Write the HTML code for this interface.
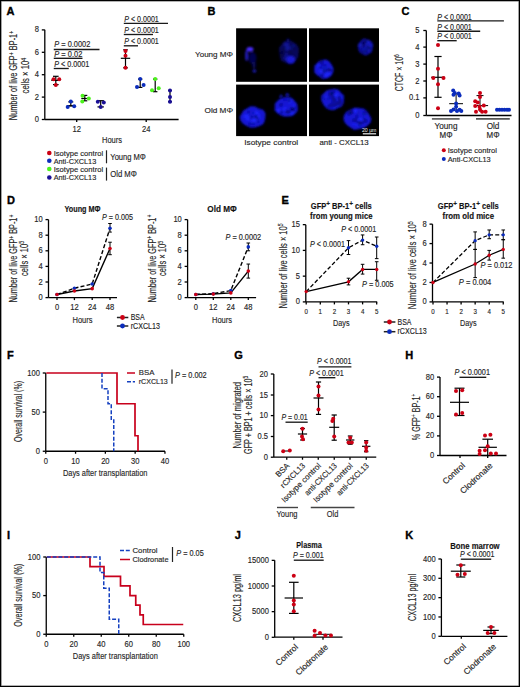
<!DOCTYPE html>
<html><head><meta charset="utf-8"><style>
html,body{margin:0;padding:0;background:#fff;}
#fig{position:relative;width:520px;height:687px;overflow:hidden;background:#fff;}
#fig svg{position:absolute;left:0;top:0;}
#frame{position:absolute;left:0;top:0;width:520px;height:687px;box-sizing:border-box;border:1px solid #000;box-shadow:inset 0 0 0 0.6px rgba(0,0,0,0.6);}
text{font-family:"Liberation Sans", sans-serif;stroke:currentColor;stroke-width:0.15px;}
#fig svg{color:#262626;}
</style></head><body>
<div id="fig">
<svg width="520" height="687" viewBox="0 0 520 687" font-family="Liberation Sans, sans-serif" fill="#262626">
<defs>
<radialGradient id="cellg" cx="50%" cy="50%" r="50%">
<stop offset="0" stop-color="#1f30ff"/><stop offset="0.7" stop-color="#1522e6"/><stop offset="0.9" stop-color="#0d15a8"/><stop offset="1" stop-color="#000" stop-opacity="0"/>
</radialGradient>
<filter id="bl1" x="-50%" y="-50%" width="200%" height="200%"><feGaussianBlur stdDeviation="0.8"/></filter>
<filter id="bl2" x="-50%" y="-50%" width="200%" height="200%"><feGaussianBlur stdDeviation="1.5"/></filter>
</defs>
<text x="6.6" y="14.6" font-size="11" font-weight="bold" fill="#000" style="stroke:#000;stroke-width:0.35px">A</text>
<line x1="44.80" y1="29.80" x2="44.80" y2="119.50" stroke="#000" stroke-width="1.3"/>
<line x1="41.80" y1="119.50" x2="44.80" y2="119.50" stroke="#000" stroke-width="1.3"/>
<text x="39.00" y="122.08" font-size="8.6" text-anchor="end" textLength="4.21" lengthAdjust="spacingAndGlyphs">0</text>
<line x1="41.80" y1="97.10" x2="44.80" y2="97.10" stroke="#000" stroke-width="1.3"/>
<text x="39.00" y="99.68" font-size="8.6" text-anchor="end" textLength="4.21" lengthAdjust="spacingAndGlyphs">2</text>
<line x1="41.80" y1="74.70" x2="44.80" y2="74.70" stroke="#000" stroke-width="1.3"/>
<text x="39.00" y="77.28" font-size="8.6" text-anchor="end" textLength="4.21" lengthAdjust="spacingAndGlyphs">4</text>
<line x1="41.80" y1="52.30" x2="44.80" y2="52.30" stroke="#000" stroke-width="1.3"/>
<text x="39.00" y="54.88" font-size="8.6" text-anchor="end" textLength="4.21" lengthAdjust="spacingAndGlyphs">6</text>
<line x1="41.80" y1="29.90" x2="44.80" y2="29.90" stroke="#000" stroke-width="1.3"/>
<text x="39.00" y="32.48" font-size="8.6" text-anchor="end" textLength="4.21" lengthAdjust="spacingAndGlyphs">8</text>
<line x1="44.80" y1="119.50" x2="178.60" y2="119.50" stroke="#000" stroke-width="1.3"/>
<line x1="76.70" y1="119.50" x2="76.70" y2="122.00" stroke="#000" stroke-width="1.3"/>
<text x="76.70" y="131.50" font-size="8.6" text-anchor="middle" textLength="8.42" lengthAdjust="spacingAndGlyphs">12</text>
<line x1="146.20" y1="119.50" x2="146.20" y2="122.00" stroke="#000" stroke-width="1.3"/>
<text x="146.20" y="131.50" font-size="8.6" text-anchor="middle" textLength="8.42" lengthAdjust="spacingAndGlyphs">24</text>
<text x="112.00" y="142.70" font-size="9.5" text-anchor="middle" textLength="20.00" lengthAdjust="spacingAndGlyphs">Hours</text>
<text x="17.20" y="75.50" font-size="10.0" text-anchor="middle" textLength="89.50" lengthAdjust="spacingAndGlyphs" transform="rotate(-90 17.20 75.50)">Number of live GFP<tspan dy="-3.6" font-size="7">+</tspan><tspan dy="3.6"> BP-1</tspan><tspan dy="-3.6" font-size="7">+</tspan></text>
<text x="29.50" y="75.60" font-size="10.0" text-anchor="middle" textLength="35.60" lengthAdjust="spacingAndGlyphs" transform="rotate(-90 29.50 75.60)">cells × 10<tspan dy="-3.6" font-size="7">4</tspan></text>
<text x="54.30" y="47.10" font-size="8.2" textLength="36.00" lengthAdjust="spacingAndGlyphs"><tspan font-style="italic">P</tspan> = 0.0002</text>
<line x1="53.75" y1="49.50" x2="99.50" y2="49.50" stroke="#1a1a1a" stroke-width="1.35"/>
<text x="54.30" y="56.60" font-size="8.2" textLength="28.00" lengthAdjust="spacingAndGlyphs"><tspan font-style="italic">P</tspan> = 0.02</text>
<line x1="53.75" y1="58.30" x2="82.50" y2="58.30" stroke="#1a1a1a" stroke-width="1.35"/>
<text x="54.30" y="66.80" font-size="8.2" textLength="35.00" lengthAdjust="spacingAndGlyphs"><tspan font-style="italic">P</tspan> &lt; 0.0001</text>
<line x1="53.75" y1="68.50" x2="68.75" y2="68.50" stroke="#1a1a1a" stroke-width="1.35"/>
<text x="124.30" y="22.00" font-size="8.2" textLength="34.50" lengthAdjust="spacingAndGlyphs"><tspan font-style="italic">P</tspan> &lt; 0.0001</text>
<line x1="123.80" y1="23.40" x2="168.00" y2="23.40" stroke="#1a1a1a" stroke-width="1.35"/>
<text x="124.30" y="32.70" font-size="8.2" textLength="34.50" lengthAdjust="spacingAndGlyphs"><tspan font-style="italic">P</tspan> &lt; 0.0001</text>
<line x1="123.80" y1="34.50" x2="153.00" y2="34.50" stroke="#1a1a1a" stroke-width="1.35"/>
<text x="124.30" y="43.90" font-size="8.2" textLength="34.50" lengthAdjust="spacingAndGlyphs"><tspan font-style="italic">P</tspan> &lt; 0.0001</text>
<line x1="123.80" y1="45.80" x2="138.00" y2="45.80" stroke="#1a1a1a" stroke-width="1.35"/>
<line x1="55.80" y1="76.30" x2="55.80" y2="84.60" stroke="#000" stroke-width="1.2"/>
<line x1="53.00" y1="76.30" x2="58.60" y2="76.30" stroke="#000" stroke-width="1.2"/>
<line x1="53.00" y1="84.60" x2="58.60" y2="84.60" stroke="#000" stroke-width="1.2"/>
<line x1="51.30" y1="80.40" x2="60.30" y2="80.40" stroke="#000" stroke-width="1.2"/>
<circle cx="53.50" cy="79.20" r="2.0" fill="#cc0014"/>
<circle cx="59.20" cy="79.20" r="2.0" fill="#cc0014"/>
<circle cx="55.80" cy="85.00" r="2.0" fill="#cc0014"/>
<line x1="70.80" y1="101.90" x2="70.80" y2="105.80" stroke="#000" stroke-width="1.2"/>
<line x1="68.30" y1="101.90" x2="73.30" y2="101.90" stroke="#000" stroke-width="1.2"/>
<line x1="68.30" y1="105.80" x2="73.30" y2="105.80" stroke="#000" stroke-width="1.2"/>
<line x1="66.80" y1="105.80" x2="74.80" y2="105.80" stroke="#000" stroke-width="1.2"/>
<circle cx="70.80" cy="101.50" r="2.0" fill="#0b2cbc"/>
<circle cx="67.70" cy="106.90" r="2.0" fill="#0b2cbc"/>
<circle cx="74.20" cy="106.20" r="2.0" fill="#0b2cbc"/>
<line x1="84.80" y1="95.40" x2="84.80" y2="100.80" stroke="#000" stroke-width="1.2"/>
<line x1="82.30" y1="95.40" x2="87.30" y2="95.40" stroke="#000" stroke-width="1.2"/>
<line x1="82.30" y1="100.80" x2="87.30" y2="100.80" stroke="#000" stroke-width="1.2"/>
<line x1="81.30" y1="98.50" x2="88.30" y2="98.50" stroke="#000" stroke-width="1.2"/>
<circle cx="82.50" cy="95.80" r="2.0" fill="#4cf21c"/>
<circle cx="88.80" cy="98.50" r="2.0" fill="#4cf21c"/>
<circle cx="82.30" cy="101.50" r="2.0" fill="#4cf21c"/>
<line x1="100.70" y1="100.70" x2="100.70" y2="106.90" stroke="#000" stroke-width="1.2"/>
<line x1="97.50" y1="100.70" x2="103.90" y2="100.70" stroke="#000" stroke-width="1.2"/>
<line x1="97.50" y1="106.90" x2="103.90" y2="106.90" stroke="#000" stroke-width="1.2"/>
<circle cx="97.80" cy="101.70" r="2.0" fill="#1a0f96"/>
<circle cx="103.80" cy="102.60" r="2.0" fill="#1a0f96"/>
<circle cx="100.70" cy="106.90" r="2.0" fill="#1a0f96"/>
<line x1="125.50" y1="49.80" x2="125.50" y2="67.80" stroke="#000" stroke-width="1.2"/>
<line x1="123.20" y1="49.80" x2="127.80" y2="49.80" stroke="#000" stroke-width="1.2"/>
<line x1="123.20" y1="67.80" x2="127.80" y2="67.80" stroke="#000" stroke-width="1.2"/>
<line x1="120.80" y1="58.30" x2="130.20" y2="58.30" stroke="#000" stroke-width="1.2"/>
<circle cx="125.50" cy="51.00" r="2.0" fill="#cc0014"/>
<circle cx="125.50" cy="55.70" r="2.0" fill="#cc0014"/>
<circle cx="125.50" cy="67.80" r="2.0" fill="#cc0014"/>
<line x1="140.20" y1="79.10" x2="140.20" y2="87.40" stroke="#000" stroke-width="1.2"/>
<line x1="138.00" y1="79.10" x2="142.40" y2="79.10" stroke="#000" stroke-width="1.2"/>
<line x1="138.00" y1="87.40" x2="142.40" y2="87.40" stroke="#000" stroke-width="1.2"/>
<circle cx="140.20" cy="79.10" r="2.0" fill="#0b2cbc"/>
<circle cx="137.00" cy="86.90" r="2.0" fill="#0b2cbc"/>
<circle cx="143.60" cy="85.10" r="2.0" fill="#0b2cbc"/>
<line x1="155.20" y1="79.10" x2="155.20" y2="91.70" stroke="#000" stroke-width="1.2"/>
<line x1="153.00" y1="79.10" x2="157.40" y2="79.10" stroke="#000" stroke-width="1.2"/>
<line x1="153.00" y1="91.70" x2="157.40" y2="91.70" stroke="#000" stroke-width="1.2"/>
<circle cx="155.20" cy="79.10" r="2.0" fill="#4cf21c"/>
<circle cx="152.00" cy="90.30" r="2.0" fill="#4cf21c"/>
<circle cx="158.70" cy="88.30" r="2.0" fill="#4cf21c"/>
<line x1="170.00" y1="90.50" x2="170.00" y2="101.70" stroke="#000" stroke-width="1.2"/>
<line x1="168.00" y1="90.50" x2="172.00" y2="90.50" stroke="#000" stroke-width="1.2"/>
<line x1="168.00" y1="101.70" x2="172.00" y2="101.70" stroke="#000" stroke-width="1.2"/>
<circle cx="170.00" cy="90.50" r="2.0" fill="#1a0f96"/>
<circle cx="170.00" cy="96.90" r="2.0" fill="#1a0f96"/>
<circle cx="170.00" cy="101.70" r="2.0" fill="#1a0f96"/>
<circle cx="49.30" cy="153.00" r="2.3" fill="#cc0014"/>
<text x="53.70" y="155.80" font-size="7.8" textLength="49.40" lengthAdjust="spacingAndGlyphs">Isotype control</text>
<circle cx="49.30" cy="160.75" r="2.3" fill="#0b2cbc"/>
<text x="53.70" y="163.55" font-size="7.8" textLength="42.50" lengthAdjust="spacingAndGlyphs">Anti-CXCL13</text>
<circle cx="49.30" cy="169.00" r="2.3" fill="#4cf21c"/>
<text x="53.70" y="171.80" font-size="7.8" textLength="49.40" lengthAdjust="spacingAndGlyphs">Isotype control</text>
<circle cx="49.30" cy="177.50" r="2.3" fill="#1a0f96"/>
<text x="53.70" y="180.30" font-size="7.8" textLength="42.50" lengthAdjust="spacingAndGlyphs">Anti-CXCL13</text>
<line x1="106.50" y1="150.30" x2="106.50" y2="163.30" stroke="#222" stroke-width="1.2"/>
<line x1="106.50" y1="167.60" x2="106.50" y2="180.60" stroke="#222" stroke-width="1.2"/>
<text x="110.30" y="160.20" font-size="8.6" textLength="35.60" lengthAdjust="spacingAndGlyphs">Young MΦ</text>
<text x="110.30" y="176.50" font-size="8.6" textLength="26.60" lengthAdjust="spacingAndGlyphs">Old MΦ</text>
<text x="207.4" y="14.6" font-size="11" font-weight="bold" fill="#000" style="stroke:#000;stroke-width:0.35px">B</text>
<text x="233.00" y="57.30" font-size="8.0" text-anchor="end" textLength="38.00" lengthAdjust="spacingAndGlyphs">Young MΦ</text>
<text x="233.00" y="112.60" font-size="8.0" text-anchor="end" textLength="28.50" lengthAdjust="spacingAndGlyphs">Old MΦ</text>
<text x="271.20" y="145.20" font-size="8.0" text-anchor="middle" textLength="54.00" lengthAdjust="spacingAndGlyphs">Isotype control</text>
<text x="344.10" y="145.20" font-size="8.0" text-anchor="middle" textLength="49.30" lengthAdjust="spacingAndGlyphs">anti - CXCL13</text>
<rect x="236.1" y="28.3" width="70.9" height="53.5" fill="#000"/>
<rect x="309" y="28.3" width="70.0" height="53.5" fill="#000"/>
<rect x="236.1" y="84.6" width="70.9" height="51.5" fill="#000"/>
<rect x="309" y="84.6" width="70.0" height="51.5" fill="#000"/>
<g filter="url(#bl1)">
<ellipse cx="250" cy="49.3" rx="3.4" ry="2.3" fill="#4a2cff"/>
<ellipse cx="246.6" cy="55.5" rx="1.3" ry="5.5" fill="#2a1ee8" opacity="0.9"/>
<ellipse cx="252.5" cy="58" rx="4" ry="6" fill="#080860" opacity="0.8"/>
<ellipse cx="254" cy="65" rx="2" ry="3.5" fill="#0a0a70" opacity="0.7"/>
<ellipse cx="254.4" cy="71" rx="2.0" ry="1.7" fill="#1a1aa8"/>
</g>
<g filter="url(#bl1)" opacity="0.6"><path d="M298.6,52.5 L298.5,56.6 L296.5,60.1 L294.1,63.0 L290.8,64.5 L287.4,63.6 L284.3,62.2 L281.0,60.6 L279.9,56.5 L279.4,52.5 L279.0,48.1 L281.4,44.8 L283.8,41.6 L287.3,40.7 L290.8,40.5 L293.8,42.6 L296.8,44.6 L298.9,48.2Z" fill="#0c0c98"/><circle cx="282.6" cy="51.4" r="2.1" fill="#03035a" opacity="0.5"/><circle cx="289.3" cy="45.6" r="1.5" fill="#03035a" opacity="0.5"/><circle cx="292.4" cy="47.9" r="2.2" fill="#2028ff" opacity="0.8"/><circle cx="287.4" cy="44.1" r="1.6" fill="#2028ff" opacity="0.8"/><circle cx="282.2" cy="55.5" r="2.4" fill="#03035a" opacity="0.5"/><circle cx="291.3" cy="55.7" r="2.5" fill="#03035a" opacity="0.5"/><circle cx="286.1" cy="49.0" r="1.8" fill="#03035a" opacity="0.5"/><circle cx="285.6" cy="58.0" r="1.9" fill="#2028ff" opacity="0.8"/><circle cx="286.0" cy="44.6" r="2.4" fill="#2028ff" opacity="0.8"/><circle cx="287.6" cy="49.3" r="2.4" fill="#2028ff" opacity="0.8"/><circle cx="293.7" cy="48.7" r="2.1" fill="#03035a" opacity="0.5"/><circle cx="291.8" cy="46.6" r="1.5" fill="#03035a" opacity="0.5"/><circle cx="293.5" cy="45.4" r="1.1" fill="#2028ff" opacity="0.8"/><circle cx="286.5" cy="54.4" r="1.5" fill="#2028ff" opacity="0.8"/><circle cx="290.1" cy="51.1" r="2.0" fill="#03035a" opacity="0.5"/><circle cx="288.2" cy="47.4" r="2.4" fill="#2028ff" opacity="0.8"/><circle cx="281.5" cy="52.2" r="1.5" fill="#03035a" opacity="0.5"/><circle cx="287.9" cy="51.6" r="1.3" fill="#03035a" opacity="0.5"/></g>
<ellipse cx="290.6" cy="59.4" rx="4.5" ry="4" fill="#1c1ee0" filter="url(#bl1)" opacity="0.9"/>
<ellipse cx="288" cy="40.5" rx="1.3" ry="2" fill="#0a0a80" filter="url(#bl1)"/>
<g filter="url(#bl1)" opacity="1.0"><path d="M333.6,69.0 L333.1,72.4 L331.5,75.4 L328.9,77.7 L325.6,78.7 L322.2,78.9 L319.5,76.7 L316.7,75.1 L314.4,72.5 L314.2,69.0 L314.5,65.6 L317.0,63.2 L319.2,60.8 L322.3,60.0 L325.6,59.6 L328.7,60.7 L330.7,63.3 L332.5,65.9Z" fill="#1214d4"/><circle cx="322.6" cy="75.7" r="2.2" fill="#03035a" opacity="0.5"/><circle cx="324.7" cy="66.5" r="2.0" fill="#03035a" opacity="0.5"/><circle cx="330.6" cy="69.1" r="1.3" fill="#03035a" opacity="0.5"/><circle cx="330.5" cy="68.3" r="1.5" fill="#2028ff" opacity="0.8"/><circle cx="318.2" cy="67.6" r="1.3" fill="#2028ff" opacity="0.8"/><circle cx="321.3" cy="62.5" r="2.4" fill="#03035a" opacity="0.5"/><circle cx="322.0" cy="71.2" r="1.2" fill="#03035a" opacity="0.5"/><circle cx="322.1" cy="74.2" r="1.0" fill="#2028ff" opacity="0.8"/><circle cx="321.8" cy="72.4" r="2.3" fill="#03035a" opacity="0.5"/><circle cx="321.9" cy="73.5" r="2.1" fill="#03035a" opacity="0.5"/><circle cx="325.0" cy="68.8" r="2.2" fill="#2028ff" opacity="0.8"/><circle cx="330.2" cy="69.7" r="1.6" fill="#03035a" opacity="0.5"/><circle cx="325.4" cy="69.1" r="1.3" fill="#2028ff" opacity="0.8"/><circle cx="325.9" cy="74.8" r="2.5" fill="#2028ff" opacity="0.8"/><circle cx="321.5" cy="72.5" r="1.8" fill="#2028ff" opacity="0.8"/><circle cx="328.7" cy="72.9" r="2.3" fill="#2028ff" opacity="0.8"/><circle cx="330.6" cy="70.6" r="1.1" fill="#03035a" opacity="0.5"/><circle cx="318.7" cy="64.6" r="1.5" fill="#2028ff" opacity="0.8"/><circle cx="320.1" cy="67.9" r="1.5" fill="#03035a" opacity="0.5"/><circle cx="326.3" cy="70.3" r="2.1" fill="#2028ff" opacity="0.8"/><circle cx="324.7" cy="70.3" r="2.6" fill="#03035a" opacity="0.5"/><circle cx="321.0" cy="70.9" r="2.0" fill="#2028ff" opacity="0.8"/><circle cx="319.5" cy="70.3" r="1.1" fill="#2028ff" opacity="0.8"/><circle cx="328.8" cy="70.0" r="2.3" fill="#03035a" opacity="0.5"/></g>
<g filter="url(#bl1)" opacity="0.8"><path d="M373.0,47.0 L372.4,49.7 L371.5,52.4 L369.1,53.8 L366.8,55.2 L364.1,55.0 L361.7,53.7 L359.4,52.3 L358.5,49.7 L357.7,47.0 L358.5,44.3 L359.8,42.0 L361.5,39.9 L364.0,38.5 L366.7,39.3 L369.1,40.1 L371.5,41.6 L373.2,44.0Z" fill="#1214d4"/><circle cx="362.1" cy="45.2" r="2.6" fill="#03035a" opacity="0.5"/><circle cx="367.4" cy="44.4" r="1.2" fill="#03035a" opacity="0.5"/><circle cx="363.5" cy="52.2" r="1.3" fill="#03035a" opacity="0.5"/><circle cx="363.1" cy="44.1" r="1.9" fill="#03035a" opacity="0.5"/><circle cx="367.9" cy="48.0" r="2.1" fill="#03035a" opacity="0.5"/><circle cx="363.6" cy="51.4" r="1.7" fill="#03035a" opacity="0.5"/><circle cx="366.7" cy="42.0" r="1.4" fill="#03035a" opacity="0.5"/><circle cx="360.0" cy="46.1" r="2.2" fill="#03035a" opacity="0.5"/><circle cx="367.4" cy="46.7" r="1.7" fill="#2028ff" opacity="0.8"/><circle cx="367.8" cy="50.6" r="1.1" fill="#2028ff" opacity="0.8"/><circle cx="365.8" cy="42.3" r="2.4" fill="#03035a" opacity="0.5"/><circle cx="363.9" cy="42.5" r="1.9" fill="#03035a" opacity="0.5"/><circle cx="368.4" cy="41.9" r="1.8" fill="#2028ff" opacity="0.8"/><circle cx="369.9" cy="48.9" r="2.0" fill="#2028ff" opacity="0.8"/><circle cx="366.8" cy="44.0" r="1.6" fill="#2028ff" opacity="0.8"/><circle cx="369.3" cy="47.6" r="1.3" fill="#03035a" opacity="0.5"/><circle cx="370.2" cy="49.0" r="1.2" fill="#03035a" opacity="0.5"/><circle cx="361.2" cy="50.7" r="1.1" fill="#03035a" opacity="0.5"/><circle cx="360.2" cy="45.2" r="2.3" fill="#2028ff" opacity="0.8"/><circle cx="364.7" cy="50.9" r="1.6" fill="#2028ff" opacity="0.8"/><circle cx="367.6" cy="46.4" r="1.3" fill="#03035a" opacity="0.5"/><circle cx="365.8" cy="51.3" r="1.9" fill="#03035a" opacity="0.5"/><circle cx="369.2" cy="47.1" r="1.6" fill="#03035a" opacity="0.5"/><circle cx="370.1" cy="45.5" r="1.8" fill="#2028ff" opacity="0.8"/></g>
<g filter="url(#bl1)" opacity="1.0"><path d="M265.4,117.1 L264.8,120.8 L263.1,124.3 L259.1,126.2 L255.0,127.6 L250.6,127.7 L246.7,125.9 L243.1,123.9 L240.6,120.8 L239.6,117.1 L241.5,113.7 L243.3,110.5 L246.8,108.4 L250.5,106.2 L255.1,106.4 L258.7,108.5 L263.2,109.8 L265.5,113.2Z" fill="#1214d4"/><circle cx="248.6" cy="112.0" r="1.3" fill="#03035a" opacity="0.5"/><circle cx="250.5" cy="116.8" r="1.3" fill="#03035a" opacity="0.5"/><circle cx="259.2" cy="118.1" r="1.7" fill="#2028ff" opacity="0.8"/><circle cx="245.2" cy="116.3" r="1.8" fill="#2028ff" opacity="0.8"/><circle cx="248.0" cy="118.2" r="2.6" fill="#2028ff" opacity="0.8"/><circle cx="257.1" cy="111.5" r="1.5" fill="#03035a" opacity="0.5"/><circle cx="252.2" cy="119.1" r="2.2" fill="#03035a" opacity="0.5"/><circle cx="256.2" cy="113.0" r="2.5" fill="#2028ff" opacity="0.8"/><circle cx="257.2" cy="117.1" r="2.5" fill="#03035a" opacity="0.5"/><circle cx="258.8" cy="116.5" r="1.1" fill="#2028ff" opacity="0.8"/><circle cx="253.7" cy="113.0" r="1.1" fill="#03035a" opacity="0.5"/><circle cx="260.9" cy="115.6" r="1.2" fill="#03035a" opacity="0.5"/><circle cx="254.7" cy="118.3" r="2.3" fill="#03035a" opacity="0.5"/><circle cx="246.9" cy="115.2" r="1.3" fill="#2028ff" opacity="0.8"/><circle cx="258.0" cy="121.8" r="1.2" fill="#03035a" opacity="0.5"/><circle cx="253.9" cy="121.1" r="2.6" fill="#2028ff" opacity="0.8"/><circle cx="249.8" cy="124.1" r="1.3" fill="#03035a" opacity="0.5"/><circle cx="257.5" cy="112.1" r="1.2" fill="#2028ff" opacity="0.8"/><circle cx="253.9" cy="121.0" r="2.2" fill="#03035a" opacity="0.5"/><circle cx="252.1" cy="119.2" r="1.1" fill="#03035a" opacity="0.5"/><circle cx="253.1" cy="123.3" r="1.6" fill="#03035a" opacity="0.5"/><circle cx="259.2" cy="115.7" r="1.9" fill="#2028ff" opacity="0.8"/><circle cx="254.3" cy="119.9" r="2.5" fill="#2028ff" opacity="0.8"/><circle cx="252.8" cy="120.6" r="2.2" fill="#2028ff" opacity="0.8"/></g>
<g filter="url(#bl1)" opacity="1.0"><path d="M297.8,107.0 L297.8,110.5 L295.6,113.6 L292.5,116.1 L288.2,116.4 L284.2,116.5 L280.5,115.2 L277.4,113.2 L274.6,110.5 L274.8,107.0 L274.9,103.6 L277.4,100.8 L280.4,98.6 L284.1,97.2 L288.4,96.7 L292.3,98.2 L294.8,101.0 L297.1,103.7Z" fill="#1214d4"/><circle cx="291.3" cy="112.6" r="2.3" fill="#2028ff" opacity="0.8"/><circle cx="289.8" cy="101.3" r="2.5" fill="#2028ff" opacity="0.8"/><circle cx="285.9" cy="113.9" r="1.8" fill="#2028ff" opacity="0.8"/><circle cx="280.8" cy="105.1" r="1.6" fill="#03035a" opacity="0.5"/><circle cx="285.0" cy="109.4" r="2.3" fill="#2028ff" opacity="0.8"/><circle cx="293.7" cy="106.4" r="1.9" fill="#2028ff" opacity="0.8"/><circle cx="291.1" cy="111.6" r="1.7" fill="#03035a" opacity="0.5"/><circle cx="288.1" cy="112.2" r="1.4" fill="#03035a" opacity="0.5"/><circle cx="281.7" cy="104.1" r="1.2" fill="#03035a" opacity="0.5"/><circle cx="286.6" cy="110.6" r="1.3" fill="#03035a" opacity="0.5"/><circle cx="292.7" cy="109.7" r="2.5" fill="#03035a" opacity="0.5"/><circle cx="284.5" cy="99.9" r="1.1" fill="#03035a" opacity="0.5"/><circle cx="289.0" cy="100.6" r="2.0" fill="#03035a" opacity="0.5"/><circle cx="279.0" cy="110.6" r="2.4" fill="#2028ff" opacity="0.8"/><circle cx="288.6" cy="113.6" r="1.6" fill="#2028ff" opacity="0.8"/><circle cx="292.0" cy="112.6" r="2.0" fill="#2028ff" opacity="0.8"/><circle cx="287.9" cy="112.7" r="1.9" fill="#03035a" opacity="0.5"/><circle cx="281.3" cy="111.9" r="1.5" fill="#03035a" opacity="0.5"/><circle cx="290.0" cy="112.3" r="1.2" fill="#03035a" opacity="0.5"/><circle cx="292.7" cy="109.5" r="1.9" fill="#03035a" opacity="0.5"/><circle cx="292.0" cy="108.2" r="1.5" fill="#03035a" opacity="0.5"/><circle cx="295.2" cy="107.1" r="1.2" fill="#03035a" opacity="0.5"/><circle cx="285.4" cy="112.8" r="1.1" fill="#03035a" opacity="0.5"/><circle cx="280.7" cy="112.1" r="1.0" fill="#03035a" opacity="0.5"/></g>
<path d="M279,98 L281,94 L283,97Z M285,96 L287,92.5 L290,96Z" fill="#1418cc" filter="url(#bl1)"/>
<g filter="url(#bl1)" opacity="1.0"><path d="M343.9,99.4 L343.7,103.1 L341.8,106.5 L338.0,108.1 L334.5,110.0 L330.3,109.9 L326.5,108.6 L324.1,105.7 L322.3,102.7 L321.1,99.4 L321.2,95.7 L323.9,92.9 L326.6,90.4 L330.5,89.4 L334.5,88.7 L338.5,89.8 L341.1,92.8 L344.0,95.6Z" fill="#1214d4"/><circle cx="339.6" cy="102.1" r="2.4" fill="#03035a" opacity="0.5"/><circle cx="330.6" cy="93.8" r="2.5" fill="#03035a" opacity="0.5"/><circle cx="324.6" cy="97.6" r="2.0" fill="#03035a" opacity="0.5"/><circle cx="339.7" cy="103.1" r="1.8" fill="#2028ff" opacity="0.8"/><circle cx="337.3" cy="104.9" r="2.3" fill="#2028ff" opacity="0.8"/><circle cx="337.6" cy="99.9" r="1.1" fill="#2028ff" opacity="0.8"/><circle cx="327.2" cy="105.4" r="1.6" fill="#2028ff" opacity="0.8"/><circle cx="335.2" cy="96.6" r="1.9" fill="#2028ff" opacity="0.8"/><circle cx="327.3" cy="98.6" r="1.4" fill="#2028ff" opacity="0.8"/><circle cx="334.8" cy="105.1" r="1.9" fill="#03035a" opacity="0.5"/><circle cx="337.2" cy="104.0" r="2.5" fill="#03035a" opacity="0.5"/><circle cx="328.3" cy="105.9" r="1.9" fill="#03035a" opacity="0.5"/><circle cx="339.9" cy="99.8" r="1.6" fill="#03035a" opacity="0.5"/><circle cx="331.4" cy="105.5" r="2.2" fill="#03035a" opacity="0.5"/><circle cx="340.0" cy="102.9" r="2.5" fill="#03035a" opacity="0.5"/><circle cx="325.8" cy="96.9" r="1.6" fill="#2028ff" opacity="0.8"/><circle cx="338.8" cy="97.9" r="1.6" fill="#03035a" opacity="0.5"/><circle cx="332.4" cy="102.4" r="1.2" fill="#03035a" opacity="0.5"/><circle cx="335.9" cy="94.6" r="2.3" fill="#2028ff" opacity="0.8"/><circle cx="333.1" cy="97.8" r="2.5" fill="#03035a" opacity="0.5"/><circle cx="333.4" cy="92.3" r="2.1" fill="#03035a" opacity="0.5"/><circle cx="334.6" cy="100.4" r="2.0" fill="#03035a" opacity="0.5"/><circle cx="328.0" cy="98.6" r="1.3" fill="#03035a" opacity="0.5"/><circle cx="331.5" cy="94.0" r="1.6" fill="#03035a" opacity="0.5"/></g>
<g filter="url(#bl1)" opacity="1.0"><path d="M371.3,118.4 L370.7,122.3 L367.8,125.5 L364.0,127.9 L359.4,129.1 L354.4,130.0 L350.2,127.6 L346.8,125.1 L344.3,122.0 L343.5,118.4 L344.2,114.7 L346.6,111.6 L350.4,109.4 L354.6,107.8 L359.4,107.9 L364.1,108.8 L367.3,111.6 L369.4,114.9Z" fill="#1214d4"/><circle cx="359.3" cy="124.2" r="1.6" fill="#2028ff" opacity="0.8"/><circle cx="359.2" cy="113.4" r="1.2" fill="#2028ff" opacity="0.8"/><circle cx="357.2" cy="113.2" r="2.1" fill="#03035a" opacity="0.5"/><circle cx="365.2" cy="114.6" r="2.3" fill="#2028ff" opacity="0.8"/><circle cx="357.8" cy="124.5" r="2.2" fill="#2028ff" opacity="0.8"/><circle cx="354.0" cy="120.4" r="2.0" fill="#03035a" opacity="0.5"/><circle cx="356.8" cy="117.7" r="1.7" fill="#03035a" opacity="0.5"/><circle cx="362.3" cy="122.3" r="1.8" fill="#03035a" opacity="0.5"/><circle cx="364.8" cy="113.7" r="2.4" fill="#03035a" opacity="0.5"/><circle cx="363.4" cy="119.2" r="1.2" fill="#2028ff" opacity="0.8"/><circle cx="356.7" cy="121.3" r="1.5" fill="#03035a" opacity="0.5"/><circle cx="356.3" cy="112.8" r="1.5" fill="#2028ff" opacity="0.8"/><circle cx="361.6" cy="119.5" r="2.1" fill="#2028ff" opacity="0.8"/><circle cx="359.2" cy="119.7" r="1.8" fill="#2028ff" opacity="0.8"/><circle cx="363.9" cy="119.0" r="1.4" fill="#03035a" opacity="0.5"/><circle cx="359.7" cy="122.3" r="1.7" fill="#03035a" opacity="0.5"/><circle cx="349.8" cy="113.1" r="2.1" fill="#03035a" opacity="0.5"/><circle cx="352.0" cy="113.1" r="1.0" fill="#03035a" opacity="0.5"/><circle cx="351.1" cy="111.8" r="2.5" fill="#03035a" opacity="0.5"/><circle cx="348.3" cy="114.1" r="1.3" fill="#03035a" opacity="0.5"/><circle cx="365.6" cy="121.1" r="2.0" fill="#03035a" opacity="0.5"/><circle cx="359.5" cy="124.0" r="2.2" fill="#03035a" opacity="0.5"/><circle cx="353.7" cy="123.7" r="1.4" fill="#2028ff" opacity="0.8"/><circle cx="355.4" cy="110.4" r="2.0" fill="#2028ff" opacity="0.8"/></g>
<text x="369.2" y="131.6" font-size="5.6" fill="#eee" style="stroke:none" text-anchor="middle" textLength="14.5" lengthAdjust="spacingAndGlyphs">20 µm</text>
<line x1="362.8" y1="133.8" x2="376.1" y2="133.8" stroke="#eee" stroke-width="1.2"/>
<text x="401.6" y="14.8" font-size="11" font-weight="bold" fill="#000" style="stroke:#000;stroke-width:0.35px">C</text>
<line x1="426.30" y1="30.50" x2="426.30" y2="115.50" stroke="#000" stroke-width="1.3"/>
<line x1="423.30" y1="30.50" x2="426.30" y2="30.50" stroke="#000" stroke-width="1.3"/>
<text x="419.50" y="33.08" font-size="8.6" text-anchor="end" textLength="4.21" lengthAdjust="spacingAndGlyphs">5</text>
<line x1="423.30" y1="47.10" x2="426.30" y2="47.10" stroke="#000" stroke-width="1.3"/>
<text x="419.50" y="49.68" font-size="8.6" text-anchor="end" textLength="4.21" lengthAdjust="spacingAndGlyphs">4</text>
<line x1="423.30" y1="64.10" x2="426.30" y2="64.10" stroke="#000" stroke-width="1.3"/>
<text x="419.50" y="66.68" font-size="8.6" text-anchor="end" textLength="4.21" lengthAdjust="spacingAndGlyphs">3</text>
<line x1="423.30" y1="81.00" x2="426.30" y2="81.00" stroke="#000" stroke-width="1.3"/>
<text x="419.50" y="83.58" font-size="8.6" text-anchor="end" textLength="4.21" lengthAdjust="spacingAndGlyphs">2</text>
<line x1="423.30" y1="97.90" x2="426.30" y2="97.90" stroke="#000" stroke-width="1.3"/>
<text x="419.50" y="100.48" font-size="8.6" text-anchor="end" textLength="10.52" lengthAdjust="spacingAndGlyphs">0.1</text>
<line x1="423.30" y1="115.50" x2="426.30" y2="115.50" stroke="#000" stroke-width="1.3"/>
<text x="419.50" y="118.08" font-size="8.6" text-anchor="end" textLength="4.21" lengthAdjust="spacingAndGlyphs">0</text>
<line x1="426.30" y1="115.50" x2="511.50" y2="115.50" stroke="#000" stroke-width="1.3"/>
<text x="402.80" y="72.80" font-size="10.5" text-anchor="middle" textLength="37.00" lengthAdjust="spacingAndGlyphs" transform="rotate(-90 402.80 72.80)">CTCF × 10<tspan dy="-3.6" font-size="7">6</tspan></text>
<text x="437.30" y="20.00" font-size="8.2" textLength="34.50" lengthAdjust="spacingAndGlyphs"><tspan font-style="italic">P</tspan> &lt; 0.0001</text>
<line x1="437.30" y1="20.90" x2="503.90" y2="20.90" stroke="#1a1a1a" stroke-width="1.35"/>
<text x="437.30" y="30.00" font-size="8.2" textLength="34.50" lengthAdjust="spacingAndGlyphs"><tspan font-style="italic">P</tspan> &lt; 0.0001</text>
<line x1="437.30" y1="31.20" x2="480.20" y2="31.20" stroke="#1a1a1a" stroke-width="1.35"/>
<text x="437.30" y="39.10" font-size="8.2" textLength="34.50" lengthAdjust="spacingAndGlyphs"><tspan font-style="italic">P</tspan> &lt; 0.0001</text>
<line x1="437.30" y1="40.70" x2="456.70" y2="40.70" stroke="#1a1a1a" stroke-width="1.35"/>
<line x1="438.00" y1="56.50" x2="438.00" y2="97.30" stroke="#000" stroke-width="1.2"/>
<line x1="434.40" y1="56.50" x2="441.60" y2="56.50" stroke="#000" stroke-width="1.2"/>
<line x1="434.40" y1="97.30" x2="441.60" y2="97.30" stroke="#000" stroke-width="1.2"/>
<line x1="431.20" y1="77.30" x2="444.80" y2="77.30" stroke="#000" stroke-width="1.2"/>
<circle cx="438.00" cy="45.00" r="2.0" fill="#cc0014"/>
<circle cx="438.00" cy="68.70" r="2.0" fill="#cc0014"/>
<circle cx="433.30" cy="78.10" r="2.0" fill="#cc0014"/>
<circle cx="443.50" cy="78.10" r="2.0" fill="#cc0014"/>
<circle cx="438.00" cy="84.30" r="2.0" fill="#cc0014"/>
<circle cx="438.00" cy="108.20" r="2.0" fill="#cc0014"/>
<line x1="456.10" y1="93.00" x2="456.10" y2="112.00" stroke="#000" stroke-width="1.0"/>
<line x1="449.20" y1="103.70" x2="463.00" y2="103.70" stroke="#000" stroke-width="1.0"/>
<circle cx="453.20" cy="90.40" r="2.0" fill="#0b2cbc"/>
<circle cx="454.80" cy="93.00" r="2.0" fill="#0b2cbc"/>
<circle cx="458.70" cy="93.50" r="2.0" fill="#0b2cbc"/>
<circle cx="453.50" cy="94.70" r="2.0" fill="#0b2cbc"/>
<circle cx="459.60" cy="95.60" r="2.0" fill="#0b2cbc"/>
<circle cx="456.10" cy="103.40" r="2.0" fill="#0b2cbc"/>
<circle cx="451.00" cy="111.10" r="2.0" fill="#0b2cbc"/>
<circle cx="453.50" cy="109.40" r="2.0" fill="#0b2cbc"/>
<circle cx="457.00" cy="111.00" r="2.0" fill="#0b2cbc"/>
<circle cx="459.60" cy="109.80" r="2.0" fill="#0b2cbc"/>
<circle cx="461.30" cy="111.10" r="2.0" fill="#0b2cbc"/>
<circle cx="456.10" cy="106.80" r="2.0" fill="#0b2cbc"/>
<line x1="480.00" y1="95.60" x2="480.00" y2="112.00" stroke="#000" stroke-width="1.0"/>
<line x1="476.50" y1="95.60" x2="483.50" y2="95.60" stroke="#000" stroke-width="1.0"/>
<line x1="476.90" y1="105.60" x2="488.10" y2="105.60" stroke="#000" stroke-width="1.0"/>
<circle cx="480.00" cy="93.00" r="2.0" fill="#cc0014"/>
<circle cx="480.00" cy="97.00" r="2.0" fill="#cc0014"/>
<circle cx="475.20" cy="101.30" r="2.0" fill="#cc0014"/>
<circle cx="477.80" cy="102.50" r="2.0" fill="#cc0014"/>
<circle cx="483.80" cy="105.60" r="2.0" fill="#cc0014"/>
<circle cx="475.20" cy="106.00" r="2.0" fill="#cc0014"/>
<circle cx="479.50" cy="106.80" r="2.0" fill="#cc0014"/>
<circle cx="476.00" cy="111.70" r="2.0" fill="#cc0014"/>
<circle cx="482.10" cy="111.70" r="2.0" fill="#cc0014"/>
<circle cx="485.60" cy="111.70" r="2.0" fill="#cc0014"/>
<circle cx="480.00" cy="109.40" r="2.0" fill="#cc0014"/>
<circle cx="497.00" cy="109.80" r="2.0" fill="#0b2cbc"/>
<circle cx="499.50" cy="109.80" r="2.0" fill="#0b2cbc"/>
<circle cx="502.00" cy="109.80" r="2.0" fill="#0b2cbc"/>
<circle cx="504.50" cy="109.80" r="2.0" fill="#0b2cbc"/>
<circle cx="507.00" cy="109.80" r="2.0" fill="#0b2cbc"/>
<circle cx="509.00" cy="109.80" r="2.0" fill="#0b2cbc"/>
<line x1="431.90" y1="118.90" x2="459.60" y2="118.90" stroke="#555" stroke-width="1.6"/>
<line x1="476.00" y1="118.90" x2="509.80" y2="118.90" stroke="#555" stroke-width="1.6"/>
<text x="446.00" y="129.00" font-size="8.2" text-anchor="middle">Young</text>
<text x="446.00" y="138.30" font-size="8.4" text-anchor="middle" textLength="13.00" lengthAdjust="spacingAndGlyphs">MΦ</text>
<text x="493.00" y="129.00" font-size="8.2" text-anchor="middle">Old</text>
<text x="493.00" y="138.30" font-size="8.4" text-anchor="middle" textLength="13.00" lengthAdjust="spacingAndGlyphs">MΦ</text>
<circle cx="443.80" cy="150.20" r="2.0" fill="#cc0014"/>
<text x="447.70" y="153.00" font-size="8.0" textLength="49.30" lengthAdjust="spacingAndGlyphs">Isotype control</text>
<circle cx="443.80" cy="158.90" r="2.0" fill="#0b2cbc"/>
<text x="447.70" y="161.70" font-size="8.0" textLength="43.00" lengthAdjust="spacingAndGlyphs">Anti-CXCL13</text>
<text x="7.0" y="204.3" font-size="11" font-weight="bold" fill="#000" style="stroke:#000;stroke-width:0.35px">D</text>
<line x1="48.50" y1="219.60" x2="48.50" y2="297.60" stroke="#000" stroke-width="1.3"/>
<line x1="45.50" y1="297.60" x2="48.50" y2="297.60" stroke="#000" stroke-width="1.3"/>
<text x="42.70" y="300.18" font-size="8.6" text-anchor="end" textLength="4.21" lengthAdjust="spacingAndGlyphs">0</text>
<line x1="45.50" y1="282.00" x2="48.50" y2="282.00" stroke="#000" stroke-width="1.3"/>
<text x="42.70" y="284.58" font-size="8.6" text-anchor="end" textLength="4.21" lengthAdjust="spacingAndGlyphs">2</text>
<line x1="45.50" y1="266.40" x2="48.50" y2="266.40" stroke="#000" stroke-width="1.3"/>
<text x="42.70" y="268.98" font-size="8.6" text-anchor="end" textLength="4.21" lengthAdjust="spacingAndGlyphs">4</text>
<line x1="45.50" y1="250.80" x2="48.50" y2="250.80" stroke="#000" stroke-width="1.3"/>
<text x="42.70" y="253.38" font-size="8.6" text-anchor="end" textLength="4.21" lengthAdjust="spacingAndGlyphs">6</text>
<line x1="45.50" y1="235.20" x2="48.50" y2="235.20" stroke="#000" stroke-width="1.3"/>
<text x="42.70" y="237.78" font-size="8.6" text-anchor="end" textLength="4.21" lengthAdjust="spacingAndGlyphs">8</text>
<line x1="45.50" y1="219.60" x2="48.50" y2="219.60" stroke="#000" stroke-width="1.3"/>
<text x="42.70" y="222.18" font-size="8.6" text-anchor="end" textLength="8.42" lengthAdjust="spacingAndGlyphs">10</text>
<line x1="48.50" y1="297.60" x2="117.00" y2="297.60" stroke="#000" stroke-width="1.3"/>
<line x1="57.00" y1="297.60" x2="57.00" y2="300.10" stroke="#000" stroke-width="1.3"/>
<text x="57.00" y="310.20" font-size="8.6" text-anchor="middle" textLength="4.21" lengthAdjust="spacingAndGlyphs">0</text>
<line x1="74.40" y1="297.60" x2="74.40" y2="300.10" stroke="#000" stroke-width="1.3"/>
<text x="74.40" y="310.20" font-size="8.6" text-anchor="middle" textLength="8.42" lengthAdjust="spacingAndGlyphs">12</text>
<line x1="92.20" y1="297.60" x2="92.20" y2="300.10" stroke="#000" stroke-width="1.3"/>
<text x="92.20" y="310.20" font-size="8.6" text-anchor="middle" textLength="8.42" lengthAdjust="spacingAndGlyphs">24</text>
<line x1="110.00" y1="297.60" x2="110.00" y2="300.10" stroke="#000" stroke-width="1.3"/>
<text x="110.00" y="310.20" font-size="8.6" text-anchor="middle" textLength="8.42" lengthAdjust="spacingAndGlyphs">48</text>
<polyline points="57.00,294.48 74.40,290.97 92.20,288.63 110.00,248.46" fill="none" stroke="#000" stroke-width="1.4" stroke-linejoin="miter"/>
<polyline points="57.00,294.48 74.40,288.24 92.20,283.95 110.00,228.18" fill="none" stroke="#000" stroke-width="1.4" stroke-dasharray="4,2.2" stroke-linejoin="miter"/>
<line x1="110.00" y1="223.50" x2="110.00" y2="232.08" stroke="#000" stroke-width="1.0"/>
<line x1="108.20" y1="223.50" x2="111.80" y2="223.50" stroke="#000" stroke-width="1.0"/>
<line x1="108.20" y1="232.08" x2="111.80" y2="232.08" stroke="#000" stroke-width="1.0"/>
<line x1="110.00" y1="242.22" x2="110.00" y2="254.70" stroke="#000" stroke-width="1.0"/>
<line x1="108.20" y1="242.22" x2="111.80" y2="242.22" stroke="#000" stroke-width="1.0"/>
<line x1="108.20" y1="254.70" x2="111.80" y2="254.70" stroke="#000" stroke-width="1.0"/>
<circle cx="57.00" cy="294.48" r="1.8" fill="#0b2cbc"/>
<circle cx="74.40" cy="288.24" r="1.8" fill="#0b2cbc"/>
<circle cx="92.20" cy="283.95" r="1.8" fill="#0b2cbc"/>
<circle cx="110.00" cy="228.18" r="1.8" fill="#0b2cbc"/>
<circle cx="57.00" cy="294.48" r="1.8" fill="#cc0014"/>
<circle cx="74.40" cy="290.97" r="1.8" fill="#cc0014"/>
<circle cx="92.20" cy="288.63" r="1.8" fill="#cc0014"/>
<circle cx="110.00" cy="248.46" r="1.8" fill="#cc0014"/>
<text x="102.00" y="220.40" font-size="8.2" textLength="31.00" lengthAdjust="spacingAndGlyphs"><tspan font-style="italic">P</tspan> = 0.005</text>
<line x1="187.60" y1="219.60" x2="187.60" y2="297.60" stroke="#000" stroke-width="1.3"/>
<line x1="184.60" y1="297.60" x2="187.60" y2="297.60" stroke="#000" stroke-width="1.3"/>
<text x="181.80" y="300.18" font-size="8.6" text-anchor="end" textLength="4.21" lengthAdjust="spacingAndGlyphs">0</text>
<line x1="184.60" y1="282.00" x2="187.60" y2="282.00" stroke="#000" stroke-width="1.3"/>
<text x="181.80" y="284.58" font-size="8.6" text-anchor="end" textLength="4.21" lengthAdjust="spacingAndGlyphs">2</text>
<line x1="184.60" y1="266.40" x2="187.60" y2="266.40" stroke="#000" stroke-width="1.3"/>
<text x="181.80" y="268.98" font-size="8.6" text-anchor="end" textLength="4.21" lengthAdjust="spacingAndGlyphs">4</text>
<line x1="184.60" y1="250.80" x2="187.60" y2="250.80" stroke="#000" stroke-width="1.3"/>
<text x="181.80" y="253.38" font-size="8.6" text-anchor="end" textLength="4.21" lengthAdjust="spacingAndGlyphs">6</text>
<line x1="184.60" y1="235.20" x2="187.60" y2="235.20" stroke="#000" stroke-width="1.3"/>
<text x="181.80" y="237.78" font-size="8.6" text-anchor="end" textLength="4.21" lengthAdjust="spacingAndGlyphs">8</text>
<line x1="184.60" y1="219.60" x2="187.60" y2="219.60" stroke="#000" stroke-width="1.3"/>
<text x="181.80" y="222.18" font-size="8.6" text-anchor="end" textLength="8.42" lengthAdjust="spacingAndGlyphs">10</text>
<line x1="187.60" y1="297.60" x2="256.10" y2="297.60" stroke="#000" stroke-width="1.3"/>
<line x1="195.80" y1="297.60" x2="195.80" y2="300.10" stroke="#000" stroke-width="1.3"/>
<text x="195.80" y="310.20" font-size="8.6" text-anchor="middle" textLength="4.21" lengthAdjust="spacingAndGlyphs">0</text>
<line x1="213.30" y1="297.60" x2="213.30" y2="300.10" stroke="#000" stroke-width="1.3"/>
<text x="213.30" y="310.20" font-size="8.6" text-anchor="middle" textLength="8.42" lengthAdjust="spacingAndGlyphs">12</text>
<line x1="230.80" y1="297.60" x2="230.80" y2="300.10" stroke="#000" stroke-width="1.3"/>
<text x="230.80" y="310.20" font-size="8.6" text-anchor="middle" textLength="8.42" lengthAdjust="spacingAndGlyphs">24</text>
<line x1="248.30" y1="297.60" x2="248.30" y2="300.10" stroke="#000" stroke-width="1.3"/>
<text x="248.30" y="310.20" font-size="8.6" text-anchor="middle" textLength="8.42" lengthAdjust="spacingAndGlyphs">48</text>
<polyline points="195.80,294.48 213.30,294.09 230.80,292.92 248.30,271.08" fill="none" stroke="#000" stroke-width="1.4" stroke-linejoin="miter"/>
<polyline points="195.80,294.48 213.30,293.70 230.80,290.58 248.30,246.90" fill="none" stroke="#000" stroke-width="1.4" stroke-dasharray="4,2.2" stroke-linejoin="miter"/>
<line x1="248.30" y1="243.00" x2="248.30" y2="250.80" stroke="#000" stroke-width="1.0"/>
<line x1="246.50" y1="243.00" x2="250.10" y2="243.00" stroke="#000" stroke-width="1.0"/>
<line x1="246.50" y1="250.80" x2="250.10" y2="250.80" stroke="#000" stroke-width="1.0"/>
<line x1="248.30" y1="264.06" x2="248.30" y2="278.10" stroke="#000" stroke-width="1.0"/>
<line x1="246.50" y1="264.06" x2="250.10" y2="264.06" stroke="#000" stroke-width="1.0"/>
<line x1="246.50" y1="278.10" x2="250.10" y2="278.10" stroke="#000" stroke-width="1.0"/>
<circle cx="195.80" cy="294.48" r="1.8" fill="#0b2cbc"/>
<circle cx="213.30" cy="293.70" r="1.8" fill="#0b2cbc"/>
<circle cx="230.80" cy="290.58" r="1.8" fill="#0b2cbc"/>
<circle cx="248.30" cy="246.90" r="1.8" fill="#0b2cbc"/>
<circle cx="195.80" cy="294.48" r="1.8" fill="#cc0014"/>
<circle cx="213.30" cy="294.09" r="1.8" fill="#cc0014"/>
<circle cx="230.80" cy="292.92" r="1.8" fill="#cc0014"/>
<circle cx="248.30" cy="271.08" r="1.8" fill="#cc0014"/>
<text x="225.50" y="239.60" font-size="8.2" textLength="35.70" lengthAdjust="spacingAndGlyphs"><tspan font-style="italic">P</tspan> = 0.0002</text>
<text x="82.50" y="212.30" font-size="8.2" text-anchor="middle" font-weight="bold" fill="#111" textLength="36.00" lengthAdjust="spacingAndGlyphs">Young MΦ</text>
<text x="222.00" y="212.30" font-size="8.2" text-anchor="middle" font-weight="bold" fill="#111">Old MΦ</text>
<text x="17.20" y="258.60" font-size="10.0" text-anchor="middle" textLength="88.00" lengthAdjust="spacingAndGlyphs" transform="rotate(-90 17.20 258.60)">Number of live GFP<tspan dy="-3.6" font-size="7">+</tspan><tspan dy="3.6"> BP-1</tspan><tspan dy="-3.6" font-size="7">+</tspan></text>
<text x="27.90" y="258.40" font-size="10.0" text-anchor="middle" textLength="35.00" lengthAdjust="spacingAndGlyphs" transform="rotate(-90 27.90 258.40)">cells × 10<tspan dy="-3.6" font-size="7">5</tspan></text>
<text x="156.00" y="258.60" font-size="10.0" text-anchor="middle" textLength="88.00" lengthAdjust="spacingAndGlyphs" transform="rotate(-90 156.00 258.60)">Number of live GFP<tspan dy="-3.6" font-size="7">+</tspan><tspan dy="3.6"> BP-1</tspan><tspan dy="-3.6" font-size="7">+</tspan></text>
<text x="166.40" y="258.40" font-size="10.0" text-anchor="middle" textLength="35.00" lengthAdjust="spacingAndGlyphs" transform="rotate(-90 166.40 258.40)">cells × 10<tspan dy="-3.6" font-size="7">5</tspan></text>
<text x="82.50" y="323.20" font-size="9.5" text-anchor="middle" textLength="20.00" lengthAdjust="spacingAndGlyphs">Hours</text>
<text x="222.00" y="323.20" font-size="9.5" text-anchor="middle" textLength="20.00" lengthAdjust="spacingAndGlyphs">Hours</text>
<line x1="116.90" y1="317.50" x2="128.30" y2="317.50" stroke="#222" stroke-width="1.5"/>
<circle cx="122.50" cy="317.50" r="2.4" fill="#cc0014"/>
<text x="130.70" y="320.30" font-size="8.2" textLength="13.90" lengthAdjust="spacingAndGlyphs">BSA</text>
<line x1="116.90" y1="326.00" x2="128.30" y2="326.00" stroke="#222" stroke-width="1.5"/>
<circle cx="122.50" cy="326.00" r="2.4" fill="#0b2cbc"/>
<text x="130.70" y="328.70" font-size="8.2" textLength="29.30" lengthAdjust="spacingAndGlyphs">rCXCL13</text>
<text x="281.5" y="204.3" font-size="11" font-weight="bold" fill="#000" style="stroke:#000;stroke-width:0.35px">E</text>
<line x1="305.80" y1="224.65" x2="305.80" y2="301.90" stroke="#000" stroke-width="1.3"/>
<line x1="302.80" y1="301.90" x2="305.80" y2="301.90" stroke="#000" stroke-width="1.3"/>
<text x="300.00" y="304.48" font-size="8.6" text-anchor="end" textLength="4.21" lengthAdjust="spacingAndGlyphs">0</text>
<line x1="302.80" y1="276.15" x2="305.80" y2="276.15" stroke="#000" stroke-width="1.3"/>
<text x="300.00" y="278.73" font-size="8.6" text-anchor="end" textLength="4.21" lengthAdjust="spacingAndGlyphs">5</text>
<line x1="302.80" y1="250.40" x2="305.80" y2="250.40" stroke="#000" stroke-width="1.3"/>
<text x="300.00" y="252.98" font-size="8.6" text-anchor="end" textLength="8.42" lengthAdjust="spacingAndGlyphs">10</text>
<line x1="302.80" y1="224.65" x2="305.80" y2="224.65" stroke="#000" stroke-width="1.3"/>
<text x="300.00" y="227.23" font-size="8.6" text-anchor="end" textLength="8.42" lengthAdjust="spacingAndGlyphs">15</text>
<line x1="305.80" y1="301.90" x2="377.20" y2="301.90" stroke="#000" stroke-width="1.3"/>
<line x1="306.20" y1="301.90" x2="306.20" y2="304.40" stroke="#000" stroke-width="1.3"/>
<text x="306.20" y="314.20" font-size="7.0" text-anchor="middle" textLength="3.43" lengthAdjust="spacingAndGlyphs">0</text>
<line x1="320.30" y1="301.90" x2="320.30" y2="304.40" stroke="#000" stroke-width="1.3"/>
<text x="320.30" y="314.20" font-size="7.0" text-anchor="middle" textLength="3.43" lengthAdjust="spacingAndGlyphs">1</text>
<line x1="334.40" y1="301.90" x2="334.40" y2="304.40" stroke="#000" stroke-width="1.3"/>
<text x="334.40" y="314.20" font-size="7.0" text-anchor="middle" textLength="3.43" lengthAdjust="spacingAndGlyphs">2</text>
<line x1="348.50" y1="301.90" x2="348.50" y2="304.40" stroke="#000" stroke-width="1.3"/>
<text x="348.50" y="314.20" font-size="7.0" text-anchor="middle" textLength="3.43" lengthAdjust="spacingAndGlyphs">3</text>
<line x1="362.60" y1="301.90" x2="362.60" y2="304.40" stroke="#000" stroke-width="1.3"/>
<text x="362.60" y="314.20" font-size="7.0" text-anchor="middle" textLength="3.43" lengthAdjust="spacingAndGlyphs">4</text>
<line x1="376.70" y1="301.90" x2="376.70" y2="304.40" stroke="#000" stroke-width="1.3"/>
<text x="376.70" y="314.20" font-size="7.0" text-anchor="middle" textLength="3.43" lengthAdjust="spacingAndGlyphs">5</text>
<polyline points="306.20,291.60 348.50,281.81 362.60,269.45 376.70,269.45" fill="none" stroke="#000" stroke-width="1.3" stroke-linejoin="miter"/>
<polyline points="306.20,291.60 348.50,247.82 362.60,240.10 376.70,246.28" fill="none" stroke="#000" stroke-width="1.3" stroke-dasharray="4,2.2" stroke-linejoin="miter"/>
<line x1="348.50" y1="240.61" x2="348.50" y2="254.52" stroke="#000" stroke-width="1.0"/>
<line x1="346.70" y1="240.61" x2="350.30" y2="240.61" stroke="#000" stroke-width="1.0"/>
<line x1="346.70" y1="254.52" x2="350.30" y2="254.52" stroke="#000" stroke-width="1.0"/>
<line x1="362.60" y1="234.95" x2="362.60" y2="244.73" stroke="#000" stroke-width="1.0"/>
<line x1="360.80" y1="234.95" x2="364.40" y2="234.95" stroke="#000" stroke-width="1.0"/>
<line x1="360.80" y1="244.73" x2="364.40" y2="244.73" stroke="#000" stroke-width="1.0"/>
<line x1="376.70" y1="237.01" x2="376.70" y2="258.64" stroke="#000" stroke-width="1.0"/>
<line x1="374.90" y1="237.01" x2="378.50" y2="237.01" stroke="#000" stroke-width="1.0"/>
<line x1="374.90" y1="258.64" x2="378.50" y2="258.64" stroke="#000" stroke-width="1.0"/>
<line x1="348.50" y1="278.21" x2="348.50" y2="284.90" stroke="#000" stroke-width="1.0"/>
<line x1="346.70" y1="278.21" x2="350.30" y2="278.21" stroke="#000" stroke-width="1.0"/>
<line x1="346.70" y1="284.90" x2="350.30" y2="284.90" stroke="#000" stroke-width="1.0"/>
<line x1="362.60" y1="264.30" x2="362.60" y2="274.09" stroke="#000" stroke-width="1.0"/>
<line x1="360.80" y1="264.30" x2="364.40" y2="264.30" stroke="#000" stroke-width="1.0"/>
<line x1="360.80" y1="274.09" x2="364.40" y2="274.09" stroke="#000" stroke-width="1.0"/>
<line x1="376.70" y1="261.73" x2="376.70" y2="280.27" stroke="#000" stroke-width="1.0"/>
<line x1="374.90" y1="261.73" x2="378.50" y2="261.73" stroke="#000" stroke-width="1.0"/>
<line x1="374.90" y1="280.27" x2="378.50" y2="280.27" stroke="#000" stroke-width="1.0"/>
<circle cx="306.20" cy="291.60" r="1.7" fill="#cc0014"/>
<circle cx="348.50" cy="281.81" r="1.7" fill="#cc0014"/>
<circle cx="362.60" cy="269.45" r="1.7" fill="#cc0014"/>
<circle cx="376.70" cy="269.45" r="1.7" fill="#cc0014"/>
<circle cx="348.50" cy="247.82" r="1.7" fill="#0b2cbc"/>
<circle cx="362.60" cy="240.10" r="1.7" fill="#0b2cbc"/>
<circle cx="376.70" cy="246.28" r="1.7" fill="#0b2cbc"/>
<text x="341.30" y="209.20" font-size="8.2" text-anchor="middle" font-weight="bold" fill="#111" textLength="61.00" lengthAdjust="spacingAndGlyphs">GFP<tspan dy="-3.6" font-size="7">+</tspan><tspan dy="3.6"> BP-1</tspan><tspan dy="-3.6" font-size="7">+</tspan><tspan dy="3.6"> cells</tspan></text>
<text x="341.30" y="218.50" font-size="8.2" text-anchor="middle" font-weight="bold" fill="#111" textLength="62.50" lengthAdjust="spacingAndGlyphs">from young mice</text>
<text x="341.30" y="326.30" font-size="9.2" text-anchor="middle" textLength="16.50" lengthAdjust="spacingAndGlyphs">Days</text>
<line x1="432.50" y1="224.14" x2="432.50" y2="301.90" stroke="#000" stroke-width="1.3"/>
<line x1="429.50" y1="301.90" x2="432.50" y2="301.90" stroke="#000" stroke-width="1.3"/>
<text x="426.70" y="304.48" font-size="8.6" text-anchor="end" textLength="4.21" lengthAdjust="spacingAndGlyphs">0</text>
<line x1="429.50" y1="282.46" x2="432.50" y2="282.46" stroke="#000" stroke-width="1.3"/>
<text x="426.70" y="285.04" font-size="8.6" text-anchor="end" textLength="4.21" lengthAdjust="spacingAndGlyphs">2</text>
<line x1="429.50" y1="263.02" x2="432.50" y2="263.02" stroke="#000" stroke-width="1.3"/>
<text x="426.70" y="265.60" font-size="8.6" text-anchor="end" textLength="4.21" lengthAdjust="spacingAndGlyphs">4</text>
<line x1="429.50" y1="243.58" x2="432.50" y2="243.58" stroke="#000" stroke-width="1.3"/>
<text x="426.70" y="246.16" font-size="8.6" text-anchor="end" textLength="4.21" lengthAdjust="spacingAndGlyphs">6</text>
<line x1="429.50" y1="224.14" x2="432.50" y2="224.14" stroke="#000" stroke-width="1.3"/>
<text x="426.70" y="226.72" font-size="8.6" text-anchor="end" textLength="4.21" lengthAdjust="spacingAndGlyphs">8</text>
<line x1="432.50" y1="301.90" x2="503.75" y2="301.90" stroke="#000" stroke-width="1.3"/>
<line x1="433.00" y1="301.90" x2="433.00" y2="304.40" stroke="#000" stroke-width="1.3"/>
<text x="433.00" y="314.20" font-size="7.0" text-anchor="middle" textLength="3.43" lengthAdjust="spacingAndGlyphs">0</text>
<line x1="447.05" y1="301.90" x2="447.05" y2="304.40" stroke="#000" stroke-width="1.3"/>
<text x="447.05" y="314.20" font-size="7.0" text-anchor="middle" textLength="3.43" lengthAdjust="spacingAndGlyphs">1</text>
<line x1="461.10" y1="301.90" x2="461.10" y2="304.40" stroke="#000" stroke-width="1.3"/>
<text x="461.10" y="314.20" font-size="7.0" text-anchor="middle" textLength="3.43" lengthAdjust="spacingAndGlyphs">2</text>
<line x1="475.15" y1="301.90" x2="475.15" y2="304.40" stroke="#000" stroke-width="1.3"/>
<text x="475.15" y="314.20" font-size="7.0" text-anchor="middle" textLength="3.43" lengthAdjust="spacingAndGlyphs">3</text>
<line x1="489.20" y1="301.90" x2="489.20" y2="304.40" stroke="#000" stroke-width="1.3"/>
<text x="489.20" y="314.20" font-size="7.0" text-anchor="middle" textLength="3.43" lengthAdjust="spacingAndGlyphs">4</text>
<line x1="503.25" y1="301.90" x2="503.25" y2="304.40" stroke="#000" stroke-width="1.3"/>
<text x="503.25" y="314.20" font-size="7.0" text-anchor="middle" textLength="3.43" lengthAdjust="spacingAndGlyphs">5</text>
<polyline points="433.00,282.46 475.15,263.99 489.20,255.24 503.25,249.41" fill="none" stroke="#000" stroke-width="1.3" stroke-linejoin="miter"/>
<polyline points="433.00,282.46 475.15,240.66 489.20,234.83 503.25,234.83" fill="none" stroke="#000" stroke-width="1.3" stroke-dasharray="4,2.2" stroke-linejoin="miter"/>
<line x1="475.15" y1="231.92" x2="475.15" y2="249.41" stroke="#000" stroke-width="1.0"/>
<line x1="473.35" y1="231.92" x2="476.95" y2="231.92" stroke="#000" stroke-width="1.0"/>
<line x1="473.35" y1="249.41" x2="476.95" y2="249.41" stroke="#000" stroke-width="1.0"/>
<line x1="489.20" y1="229.97" x2="489.20" y2="238.72" stroke="#000" stroke-width="1.0"/>
<line x1="487.40" y1="229.97" x2="491.00" y2="229.97" stroke="#000" stroke-width="1.0"/>
<line x1="487.40" y1="238.72" x2="491.00" y2="238.72" stroke="#000" stroke-width="1.0"/>
<line x1="503.25" y1="229.97" x2="503.25" y2="239.69" stroke="#000" stroke-width="1.0"/>
<line x1="501.45" y1="229.97" x2="505.05" y2="229.97" stroke="#000" stroke-width="1.0"/>
<line x1="501.45" y1="239.69" x2="505.05" y2="239.69" stroke="#000" stroke-width="1.0"/>
<line x1="475.15" y1="249.41" x2="475.15" y2="277.60" stroke="#000" stroke-width="1.0"/>
<line x1="473.35" y1="249.41" x2="476.95" y2="249.41" stroke="#000" stroke-width="1.0"/>
<line x1="473.35" y1="277.60" x2="476.95" y2="277.60" stroke="#000" stroke-width="1.0"/>
<line x1="489.20" y1="250.38" x2="489.20" y2="260.10" stroke="#000" stroke-width="1.0"/>
<line x1="487.40" y1="250.38" x2="491.00" y2="250.38" stroke="#000" stroke-width="1.0"/>
<line x1="487.40" y1="260.10" x2="491.00" y2="260.10" stroke="#000" stroke-width="1.0"/>
<line x1="503.25" y1="239.69" x2="503.25" y2="258.16" stroke="#000" stroke-width="1.0"/>
<line x1="501.45" y1="239.69" x2="505.05" y2="239.69" stroke="#000" stroke-width="1.0"/>
<line x1="501.45" y1="258.16" x2="505.05" y2="258.16" stroke="#000" stroke-width="1.0"/>
<circle cx="433.00" cy="282.46" r="1.7" fill="#cc0014"/>
<circle cx="475.15" cy="263.99" r="1.7" fill="#cc0014"/>
<circle cx="489.20" cy="255.24" r="1.7" fill="#cc0014"/>
<circle cx="503.25" cy="249.41" r="1.7" fill="#cc0014"/>
<circle cx="475.15" cy="240.66" r="1.7" fill="#0b2cbc"/>
<circle cx="489.20" cy="234.83" r="1.7" fill="#0b2cbc"/>
<circle cx="503.25" cy="234.83" r="1.7" fill="#0b2cbc"/>
<text x="468.30" y="209.20" font-size="8.2" text-anchor="middle" font-weight="bold" fill="#111" textLength="61.00" lengthAdjust="spacingAndGlyphs">GFP<tspan dy="-3.6" font-size="7">+</tspan><tspan dy="3.6"> BP-1</tspan><tspan dy="-3.6" font-size="7">+</tspan><tspan dy="3.6"> cells</tspan></text>
<text x="468.30" y="218.50" font-size="8.2" text-anchor="middle" font-weight="bold" fill="#111" textLength="51.50" lengthAdjust="spacingAndGlyphs">from old mice</text>
<text x="468.30" y="326.30" font-size="9.2" text-anchor="middle" textLength="16.50" lengthAdjust="spacingAndGlyphs">Days</text>
<text x="286.60" y="266.00" font-size="10.3" text-anchor="middle" textLength="85.00" lengthAdjust="spacingAndGlyphs" transform="rotate(-90 286.60 266.00)">Number of live cells × 10<tspan dy="-3.6" font-size="7">5</tspan></text>
<text x="416.20" y="265.20" font-size="10.3" text-anchor="middle" textLength="88.00" lengthAdjust="spacingAndGlyphs" transform="rotate(-90 416.20 265.20)">Number of live cells × 10<tspan dy="-3.6" font-size="7">5</tspan></text>
<text x="310.00" y="247.10" font-size="8.2" textLength="35.00" lengthAdjust="spacingAndGlyphs"><tspan font-style="italic">P</tspan> &lt; 0.0001</text>
<text x="341.30" y="232.10" font-size="8.2" textLength="35.00" lengthAdjust="spacingAndGlyphs"><tspan font-style="italic">P</tspan> &lt; 0.0001</text>
<text x="362.00" y="287.10" font-size="8.2" textLength="31.70" lengthAdjust="spacingAndGlyphs"><tspan font-style="italic">P</tspan> = 0.005</text>
<text x="480.50" y="267.60" font-size="8.2" textLength="32.00" lengthAdjust="spacingAndGlyphs"><tspan font-style="italic">P</tspan> = 0.012</text>
<text x="458.80" y="284.60" font-size="8.2" textLength="32.50" lengthAdjust="spacingAndGlyphs"><tspan font-style="italic">P</tspan> = 0.004</text>
<line x1="383.80" y1="322.00" x2="395.40" y2="322.00" stroke="#222" stroke-width="1.5"/>
<circle cx="389.50" cy="322.00" r="2.4" fill="#cc0014"/>
<text x="397.50" y="324.80" font-size="8.2" textLength="13.90" lengthAdjust="spacingAndGlyphs">BSA</text>
<line x1="383.80" y1="331.70" x2="395.40" y2="331.70" stroke="#222" stroke-width="1.5"/>
<circle cx="389.50" cy="331.70" r="2.4" fill="#0b2cbc"/>
<text x="397.50" y="334.40" font-size="8.2" textLength="29.30" lengthAdjust="spacingAndGlyphs">rCXCL13</text>
<text x="7.0" y="359.0" font-size="11" font-weight="bold" fill="#000" style="stroke:#000;stroke-width:0.35px">F</text>
<line x1="45.75" y1="373.00" x2="45.75" y2="451.25" stroke="#000" stroke-width="1.3"/>
<line x1="42.75" y1="451.25" x2="45.75" y2="451.25" stroke="#000" stroke-width="1.3"/>
<text x="39.95" y="453.83" font-size="8.6" text-anchor="end" textLength="4.21" lengthAdjust="spacingAndGlyphs">0</text>
<line x1="42.75" y1="412.10" x2="45.75" y2="412.10" stroke="#000" stroke-width="1.3"/>
<text x="39.95" y="414.68" font-size="8.6" text-anchor="end" textLength="8.42" lengthAdjust="spacingAndGlyphs">50</text>
<line x1="42.75" y1="373.00" x2="45.75" y2="373.00" stroke="#000" stroke-width="1.3"/>
<text x="39.95" y="375.58" font-size="8.6" text-anchor="end" textLength="12.63" lengthAdjust="spacingAndGlyphs">100</text>
<line x1="45.75" y1="451.25" x2="165.00" y2="451.25" stroke="#000" stroke-width="1.3"/>
<line x1="45.75" y1="451.25" x2="45.75" y2="453.75" stroke="#000" stroke-width="1.3"/>
<text x="45.75" y="463.55" font-size="8.6" text-anchor="middle" textLength="4.21" lengthAdjust="spacingAndGlyphs">0</text>
<line x1="75.55" y1="451.25" x2="75.55" y2="453.75" stroke="#000" stroke-width="1.3"/>
<text x="75.55" y="463.55" font-size="8.6" text-anchor="middle" textLength="8.42" lengthAdjust="spacingAndGlyphs">10</text>
<line x1="105.35" y1="451.25" x2="105.35" y2="453.75" stroke="#000" stroke-width="1.3"/>
<text x="105.35" y="463.55" font-size="8.6" text-anchor="middle" textLength="8.42" lengthAdjust="spacingAndGlyphs">20</text>
<line x1="135.15" y1="451.25" x2="135.15" y2="453.75" stroke="#000" stroke-width="1.3"/>
<text x="135.15" y="463.55" font-size="8.6" text-anchor="middle" textLength="8.42" lengthAdjust="spacingAndGlyphs">30</text>
<line x1="164.95" y1="451.25" x2="164.95" y2="453.75" stroke="#000" stroke-width="1.3"/>
<text x="164.95" y="463.55" font-size="8.6" text-anchor="middle" textLength="8.42" lengthAdjust="spacingAndGlyphs">40</text>
<polyline points="46.30,373.00 117.00,373.00 117.00,403.75 135.00,403.75 135.00,435.75 138.00,435.75 138.00,451.25" fill="none" stroke="#c8001c" stroke-width="1.7" stroke-linejoin="miter"/>
<polyline points="102.00,373.00 102.00,388.75 108.00,388.75 108.00,403.75 111.25,403.75 111.25,420.00 113.75,420.00 113.75,451.25" fill="none" stroke="#1540c0" stroke-width="1.5" stroke-dasharray="4,1.8" stroke-linejoin="miter"/>
<text x="21.70" y="411.50" font-size="10" text-anchor="middle" textLength="61.00" lengthAdjust="spacingAndGlyphs" transform="rotate(-90 21.70 411.50)">Overall survival (%)</text>
<text x="105.20" y="476.30" font-size="9.9" text-anchor="middle" textLength="84.60" lengthAdjust="spacingAndGlyphs">Days after transplantation</text>
<line x1="127.00" y1="373.00" x2="135.00" y2="373.00" stroke="#c8001c" stroke-width="1.5"/>
<text x="138.75" y="374.90" font-size="7.8">BSA</text>
<line x1="127.00" y1="381.75" x2="135.00" y2="381.75" stroke="#1540c0" stroke-width="1.5" stroke-dasharray="4,1.8"/>
<text x="138.75" y="384.40" font-size="7.6" textLength="29.00" lengthAdjust="spacingAndGlyphs">rCXCL13</text>
<line x1="172.00" y1="369.50" x2="172.00" y2="383.75" stroke="#222" stroke-width="1.2"/>
<text x="175.00" y="377.90" font-size="8.2" textLength="31.70" lengthAdjust="spacingAndGlyphs"><tspan font-style="italic">P</tspan> = 0.002</text>
<text x="234.2" y="359.0" font-size="11" font-weight="bold" fill="#000" style="stroke:#000;stroke-width:0.35px">G</text>
<line x1="273.80" y1="374.00" x2="273.80" y2="457.20" stroke="#000" stroke-width="1.3"/>
<line x1="270.80" y1="457.20" x2="273.80" y2="457.20" stroke="#000" stroke-width="1.3"/>
<text x="268.00" y="459.78" font-size="8.6" text-anchor="end" textLength="4.21" lengthAdjust="spacingAndGlyphs">0</text>
<line x1="270.80" y1="436.50" x2="273.80" y2="436.50" stroke="#000" stroke-width="1.3"/>
<text x="268.00" y="439.08" font-size="8.6" text-anchor="end" textLength="10.52" lengthAdjust="spacingAndGlyphs">0.5</text>
<line x1="270.80" y1="415.60" x2="273.80" y2="415.60" stroke="#000" stroke-width="1.3"/>
<text x="268.00" y="418.18" font-size="8.6" text-anchor="end" textLength="8.42" lengthAdjust="spacingAndGlyphs">10</text>
<line x1="270.80" y1="395.00" x2="273.80" y2="395.00" stroke="#000" stroke-width="1.3"/>
<text x="268.00" y="397.58" font-size="8.6" text-anchor="end" textLength="8.42" lengthAdjust="spacingAndGlyphs">15</text>
<line x1="270.80" y1="374.00" x2="273.80" y2="374.00" stroke="#000" stroke-width="1.3"/>
<text x="268.00" y="376.58" font-size="8.6" text-anchor="end" textLength="8.42" lengthAdjust="spacingAndGlyphs">20</text>
<line x1="273.80" y1="457.20" x2="376.25" y2="457.20" stroke="#000" stroke-width="1.3"/>
<line x1="286.75" y1="457.20" x2="286.75" y2="459.70" stroke="#000" stroke-width="1.3"/>
<line x1="302.50" y1="457.20" x2="302.50" y2="459.70" stroke="#000" stroke-width="1.3"/>
<line x1="318.25" y1="457.20" x2="318.25" y2="459.70" stroke="#000" stroke-width="1.3"/>
<line x1="334.25" y1="457.20" x2="334.25" y2="459.70" stroke="#000" stroke-width="1.3"/>
<line x1="350.00" y1="457.20" x2="350.00" y2="459.70" stroke="#000" stroke-width="1.3"/>
<line x1="366.25" y1="457.20" x2="366.25" y2="459.70" stroke="#000" stroke-width="1.3"/>
<text x="289.95" y="466.30" font-size="8.0" text-anchor="end" textLength="16.01" lengthAdjust="spacingAndGlyphs" transform="rotate(-45 289.95 466.30)">BSA</text>
<text x="305.70" y="466.30" font-size="8.0" text-anchor="end" textLength="31.26" lengthAdjust="spacingAndGlyphs" transform="rotate(-45 305.70 466.30)">rCXCL13</text>
<text x="321.45" y="466.30" font-size="8.0" text-anchor="end" textLength="52.02" lengthAdjust="spacingAndGlyphs" transform="rotate(-45 321.45 466.30)">Isotype control</text>
<text x="337.45" y="466.30" font-size="8.0" text-anchor="end" textLength="42.13" lengthAdjust="spacingAndGlyphs" transform="rotate(-45 337.45 466.30)">anti-CXCL13</text>
<text x="353.20" y="466.30" font-size="8.0" text-anchor="end" textLength="52.02" lengthAdjust="spacingAndGlyphs" transform="rotate(-45 353.20 466.30)">Isotype control</text>
<text x="369.45" y="466.30" font-size="8.0" text-anchor="end" textLength="42.13" lengthAdjust="spacingAndGlyphs" transform="rotate(-45 369.45 466.30)">anti-CXCL13</text>
<line x1="283.00" y1="451.00" x2="290.00" y2="451.00" stroke="#000" stroke-width="1.0"/>
<circle cx="283.20" cy="451.20" r="2.0" fill="#cc0014"/>
<circle cx="289.80" cy="450.60" r="2.0" fill="#cc0014"/>
<line x1="302.50" y1="428.50" x2="302.50" y2="440.00" stroke="#000" stroke-width="1.2"/>
<line x1="300.10" y1="428.50" x2="304.90" y2="428.50" stroke="#000" stroke-width="1.2"/>
<line x1="300.10" y1="440.00" x2="304.90" y2="440.00" stroke="#000" stroke-width="1.2"/>
<line x1="297.90" y1="434.00" x2="307.10" y2="434.00" stroke="#000" stroke-width="1.2"/>
<circle cx="302.50" cy="428.80" r="2.0" fill="#cc0014"/>
<circle cx="302.00" cy="436.50" r="2.0" fill="#cc0014"/>
<circle cx="303.00" cy="439.20" r="2.0" fill="#cc0014"/>
<line x1="318.50" y1="382.00" x2="318.50" y2="414.40" stroke="#000" stroke-width="1.2"/>
<line x1="315.90" y1="382.00" x2="321.10" y2="382.00" stroke="#000" stroke-width="1.2"/>
<line x1="315.90" y1="414.40" x2="321.10" y2="414.40" stroke="#000" stroke-width="1.2"/>
<line x1="313.50" y1="398.00" x2="323.50" y2="398.00" stroke="#000" stroke-width="1.2"/>
<circle cx="318.50" cy="386.40" r="2.0" fill="#cc0014"/>
<circle cx="318.50" cy="395.60" r="2.0" fill="#cc0014"/>
<circle cx="318.50" cy="409.50" r="2.0" fill="#cc0014"/>
<line x1="334.20" y1="415.00" x2="334.20" y2="440.20" stroke="#000" stroke-width="1.2"/>
<line x1="331.60" y1="415.00" x2="336.80" y2="415.00" stroke="#000" stroke-width="1.2"/>
<line x1="331.60" y1="440.20" x2="336.80" y2="440.20" stroke="#000" stroke-width="1.2"/>
<line x1="329.20" y1="427.30" x2="339.20" y2="427.30" stroke="#000" stroke-width="1.2"/>
<circle cx="333.20" cy="418.70" r="2.0" fill="#cc0014"/>
<circle cx="332.40" cy="421.00" r="2.0" fill="#cc0014"/>
<circle cx="334.20" cy="436.50" r="2.0" fill="#cc0014"/>
<line x1="350.20" y1="436.00" x2="350.20" y2="444.20" stroke="#000" stroke-width="1.2"/>
<line x1="347.80" y1="436.00" x2="352.60" y2="436.00" stroke="#000" stroke-width="1.2"/>
<line x1="347.80" y1="444.20" x2="352.60" y2="444.20" stroke="#000" stroke-width="1.2"/>
<line x1="346.00" y1="440.00" x2="354.40" y2="440.00" stroke="#000" stroke-width="1.2"/>
<circle cx="350.20" cy="437.80" r="2.0" fill="#cc0014"/>
<circle cx="348.50" cy="442.50" r="2.0" fill="#cc0014"/>
<circle cx="351.80" cy="442.50" r="2.0" fill="#cc0014"/>
<line x1="366.20" y1="440.70" x2="366.20" y2="451.70" stroke="#000" stroke-width="1.2"/>
<line x1="364.00" y1="440.70" x2="368.40" y2="440.70" stroke="#000" stroke-width="1.2"/>
<line x1="364.00" y1="451.70" x2="368.40" y2="451.70" stroke="#000" stroke-width="1.2"/>
<line x1="362.00" y1="446.30" x2="370.40" y2="446.30" stroke="#000" stroke-width="1.2"/>
<circle cx="366.20" cy="442.50" r="2.0" fill="#cc0014"/>
<circle cx="366.20" cy="447.50" r="2.0" fill="#cc0014"/>
<circle cx="366.20" cy="450.70" r="2.0" fill="#cc0014"/>
<text x="281.50" y="419.60" font-size="8.2" textLength="26.20" lengthAdjust="spacingAndGlyphs"><tspan font-style="italic">P</tspan> = 0.01</text>
<line x1="285.50" y1="422.20" x2="307.70" y2="422.20" stroke="#1a1a1a" stroke-width="1.35"/>
<text x="309.20" y="375.60" font-size="8.2" textLength="34.50" lengthAdjust="spacingAndGlyphs"><tspan font-style="italic">P</tspan> &lt; 0.0001</text>
<line x1="318.50" y1="377.70" x2="335.40" y2="377.70" stroke="#1a1a1a" stroke-width="1.35"/>
<text x="317.00" y="364.10" font-size="8.2" textLength="34.40" lengthAdjust="spacingAndGlyphs"><tspan font-style="italic">P</tspan> &lt; 0.0001</text>
<line x1="318.50" y1="366.80" x2="351.40" y2="366.80" stroke="#1a1a1a" stroke-width="1.35"/>
<text x="241.40" y="415.20" font-size="10.3" text-anchor="middle" textLength="66.50" lengthAdjust="spacingAndGlyphs" transform="rotate(-90 241.40 415.20)">Number of migrated</text>
<text x="251.80" y="414.90" font-size="10.3" text-anchor="middle" textLength="78.00" lengthAdjust="spacingAndGlyphs" transform="rotate(-90 251.80 414.90)">GFP + BP1 + cells × 10<tspan dy="-3.4" font-size="6.8">5</tspan></text>
<line x1="277.00" y1="507.50" x2="298.00" y2="507.50" stroke="#444" stroke-width="1.4"/>
<line x1="310.75" y1="507.50" x2="354.50" y2="507.50" stroke="#444" stroke-width="1.4"/>
<text x="287.00" y="517.30" font-size="9.0" text-anchor="middle" textLength="21.00" lengthAdjust="spacingAndGlyphs">Young</text>
<text x="332.50" y="517.30" font-size="9.0" text-anchor="middle" textLength="11.50" lengthAdjust="spacingAndGlyphs">Old</text>
<text x="405.3" y="359.0" font-size="11" font-weight="bold" fill="#000" style="stroke:#000;stroke-width:0.35px">H</text>
<line x1="440.00" y1="377.00" x2="440.00" y2="455.50" stroke="#000" stroke-width="1.3"/>
<line x1="437.00" y1="455.50" x2="440.00" y2="455.50" stroke="#000" stroke-width="1.3"/>
<text x="434.20" y="458.08" font-size="8.6" text-anchor="end" textLength="4.21" lengthAdjust="spacingAndGlyphs">0</text>
<line x1="437.00" y1="435.90" x2="440.00" y2="435.90" stroke="#000" stroke-width="1.3"/>
<text x="434.20" y="438.48" font-size="8.6" text-anchor="end" textLength="8.42" lengthAdjust="spacingAndGlyphs">20</text>
<line x1="437.00" y1="416.30" x2="440.00" y2="416.30" stroke="#000" stroke-width="1.3"/>
<text x="434.20" y="418.88" font-size="8.6" text-anchor="end" textLength="8.42" lengthAdjust="spacingAndGlyphs">40</text>
<line x1="437.00" y1="396.70" x2="440.00" y2="396.70" stroke="#000" stroke-width="1.3"/>
<text x="434.20" y="399.28" font-size="8.6" text-anchor="end" textLength="8.42" lengthAdjust="spacingAndGlyphs">60</text>
<line x1="437.00" y1="377.10" x2="440.00" y2="377.10" stroke="#000" stroke-width="1.3"/>
<text x="434.20" y="379.68" font-size="8.6" text-anchor="end" textLength="8.42" lengthAdjust="spacingAndGlyphs">80</text>
<line x1="440.00" y1="455.50" x2="506.50" y2="455.50" stroke="#000" stroke-width="1.3"/>
<line x1="460.00" y1="455.50" x2="460.00" y2="458.00" stroke="#000" stroke-width="1.3"/>
<line x1="487.70" y1="455.50" x2="487.70" y2="458.00" stroke="#000" stroke-width="1.3"/>
<line x1="459.50" y1="388.20" x2="459.50" y2="415.50" stroke="#000" stroke-width="1.2"/>
<line x1="454.50" y1="388.20" x2="464.50" y2="388.20" stroke="#000" stroke-width="1.2"/>
<line x1="454.50" y1="415.50" x2="464.50" y2="415.50" stroke="#000" stroke-width="1.2"/>
<line x1="450.00" y1="402.30" x2="469.00" y2="402.30" stroke="#000" stroke-width="1.2"/>
<circle cx="456.00" cy="390.90" r="2.0" fill="#cc0014"/>
<circle cx="462.20" cy="390.20" r="2.0" fill="#cc0014"/>
<circle cx="456.00" cy="414.40" r="2.0" fill="#cc0014"/>
<circle cx="462.20" cy="413.10" r="2.0" fill="#cc0014"/>
<line x1="487.70" y1="439.20" x2="487.70" y2="455.50" stroke="#000" stroke-width="1.2"/>
<line x1="482.40" y1="439.20" x2="493.00" y2="439.20" stroke="#000" stroke-width="1.2"/>
<line x1="482.40" y1="455.50" x2="493.00" y2="455.50" stroke="#000" stroke-width="1.2"/>
<line x1="478.50" y1="447.30" x2="496.90" y2="447.30" stroke="#000" stroke-width="1.2"/>
<circle cx="485.00" cy="435.40" r="2.0" fill="#cc0014"/>
<circle cx="490.40" cy="434.80" r="2.0" fill="#cc0014"/>
<circle cx="487.70" cy="446.30" r="2.0" fill="#cc0014"/>
<circle cx="479.60" cy="450.80" r="2.0" fill="#cc0014"/>
<circle cx="485.00" cy="450.20" r="2.0" fill="#cc0014"/>
<circle cx="479.60" cy="454.00" r="2.0" fill="#cc0014"/>
<circle cx="490.80" cy="453.50" r="2.0" fill="#cc0014"/>
<circle cx="496.00" cy="453.50" r="2.0" fill="#cc0014"/>
<text x="454.50" y="375.10" font-size="8.2" textLength="35.50" lengthAdjust="spacingAndGlyphs"><tspan font-style="italic">P</tspan> &lt; 0.0001</text>
<line x1="459.50" y1="377.30" x2="486.30" y2="377.30" stroke="#1a1a1a" stroke-width="1.35"/>
<text x="419.60" y="416.90" font-size="10.5" text-anchor="middle" textLength="46.50" lengthAdjust="spacingAndGlyphs" transform="rotate(-90 419.60 416.90)">% GFP<tspan dy="-3.8" font-size="7">+</tspan><tspan dy="3.8"> BP-1</tspan><tspan dy="-3.8" font-size="7">+</tspan></text>
<text x="465.50" y="466.30" font-size="8.4" text-anchor="end" transform="rotate(-43 465.50 466.30)">Control</text>
<text x="493.20" y="466.30" font-size="8.4" text-anchor="end" transform="rotate(-43 493.20 466.30)">Clodronate</text>
<text x="7.0" y="539.3" font-size="11" font-weight="bold" fill="#000" style="stroke:#000;stroke-width:0.35px">I</text>
<line x1="46.25" y1="557.00" x2="46.25" y2="634.25" stroke="#000" stroke-width="1.3"/>
<line x1="43.25" y1="634.25" x2="46.25" y2="634.25" stroke="#000" stroke-width="1.3"/>
<text x="40.45" y="636.83" font-size="8.6" text-anchor="end" textLength="4.21" lengthAdjust="spacingAndGlyphs">0</text>
<line x1="43.25" y1="595.60" x2="46.25" y2="595.60" stroke="#000" stroke-width="1.3"/>
<text x="40.45" y="598.18" font-size="8.6" text-anchor="end" textLength="8.42" lengthAdjust="spacingAndGlyphs">50</text>
<line x1="43.25" y1="557.00" x2="46.25" y2="557.00" stroke="#000" stroke-width="1.3"/>
<text x="40.45" y="559.58" font-size="8.6" text-anchor="end" textLength="12.63" lengthAdjust="spacingAndGlyphs">100</text>
<line x1="46.25" y1="634.25" x2="183.75" y2="634.25" stroke="#000" stroke-width="1.3"/>
<line x1="46.25" y1="634.25" x2="46.25" y2="636.75" stroke="#000" stroke-width="1.3"/>
<text x="46.25" y="646.75" font-size="8.6" text-anchor="middle" textLength="4.21" lengthAdjust="spacingAndGlyphs">0</text>
<line x1="73.75" y1="634.25" x2="73.75" y2="636.75" stroke="#000" stroke-width="1.3"/>
<text x="73.75" y="646.75" font-size="8.6" text-anchor="middle" textLength="8.42" lengthAdjust="spacingAndGlyphs">20</text>
<line x1="101.25" y1="634.25" x2="101.25" y2="636.75" stroke="#000" stroke-width="1.3"/>
<text x="101.25" y="646.75" font-size="8.6" text-anchor="middle" textLength="8.42" lengthAdjust="spacingAndGlyphs">40</text>
<line x1="128.75" y1="634.25" x2="128.75" y2="636.75" stroke="#000" stroke-width="1.3"/>
<text x="128.75" y="646.75" font-size="8.6" text-anchor="middle" textLength="8.42" lengthAdjust="spacingAndGlyphs">60</text>
<line x1="156.25" y1="634.25" x2="156.25" y2="636.75" stroke="#000" stroke-width="1.3"/>
<text x="156.25" y="646.75" font-size="8.6" text-anchor="middle" textLength="8.42" lengthAdjust="spacingAndGlyphs">80</text>
<line x1="183.75" y1="634.25" x2="183.75" y2="636.75" stroke="#000" stroke-width="1.3"/>
<text x="183.75" y="646.75" font-size="8.6" text-anchor="middle" textLength="12.63" lengthAdjust="spacingAndGlyphs">100</text>
<polyline points="46.80,557.00 90.00,557.00 90.00,566.60 104.00,566.60 104.00,576.30 120.50,576.30 120.50,585.90 130.00,585.90 130.00,595.60 135.75,595.60 135.75,605.20 140.00,605.20 140.00,614.90 143.25,614.90 143.25,624.50 183.25,624.50" fill="none" stroke="#c8001c" stroke-width="1.7" stroke-linejoin="miter"/>
<polyline points="46.80,557.00 100.00,557.00 100.00,572.50 103.75,572.50 103.75,588.20 109.25,588.20 109.25,619.30 118.75,619.30 118.75,634.25" fill="none" stroke="#1540c0" stroke-width="1.5" stroke-dasharray="4,1.8" stroke-linejoin="miter"/>
<text x="22.20" y="595.30" font-size="10" text-anchor="middle" textLength="63.00" lengthAdjust="spacingAndGlyphs" transform="rotate(-90 22.20 595.30)">Overall survival (%)</text>
<text x="115.30" y="658.80" font-size="9.9" text-anchor="middle" textLength="85.00" lengthAdjust="spacingAndGlyphs">Days after transplantation</text>
<line x1="120.00" y1="550.50" x2="130.00" y2="550.50" stroke="#1540c0" stroke-width="1.5" stroke-dasharray="4,1.8"/>
<text x="132.50" y="553.20" font-size="7.6" textLength="25.00" lengthAdjust="spacingAndGlyphs">Control</text>
<line x1="120.00" y1="559.50" x2="130.00" y2="559.50" stroke="#c8001c" stroke-width="1.5"/>
<text x="132.50" y="562.20" font-size="7.6" textLength="36.00" lengthAdjust="spacingAndGlyphs">Clodronate</text>
<line x1="172.50" y1="547.00" x2="172.50" y2="562.00" stroke="#222" stroke-width="1.2"/>
<text x="176.25" y="556.40" font-size="8.2" textLength="27.50" lengthAdjust="spacingAndGlyphs"><tspan font-style="italic">P</tspan> = 0.05</text>
<text x="234.8" y="539.3" font-size="11" font-weight="bold" fill="#000" style="stroke:#000;stroke-width:0.35px">J</text>
<text x="309.00" y="548.30" font-size="8.2" text-anchor="middle" font-weight="bold" fill="#111" textLength="25.50" lengthAdjust="spacingAndGlyphs">Plasma</text>
<line x1="274.70" y1="560.30" x2="274.70" y2="637.30" stroke="#000" stroke-width="1.3"/>
<line x1="271.70" y1="637.30" x2="274.70" y2="637.30" stroke="#000" stroke-width="1.3"/>
<text x="268.90" y="639.88" font-size="8.6" text-anchor="end" textLength="4.21" lengthAdjust="spacingAndGlyphs">0</text>
<line x1="271.70" y1="611.65" x2="274.70" y2="611.65" stroke="#000" stroke-width="1.3"/>
<text x="268.90" y="614.23" font-size="8.6" text-anchor="end" textLength="16.83" lengthAdjust="spacingAndGlyphs">5000</text>
<line x1="271.70" y1="586.00" x2="274.70" y2="586.00" stroke="#000" stroke-width="1.3"/>
<text x="268.90" y="588.58" font-size="8.6" text-anchor="end" textLength="21.04" lengthAdjust="spacingAndGlyphs">10000</text>
<line x1="271.70" y1="560.35" x2="274.70" y2="560.35" stroke="#000" stroke-width="1.3"/>
<text x="268.90" y="562.93" font-size="8.6" text-anchor="end" textLength="21.04" lengthAdjust="spacingAndGlyphs">15000</text>
<line x1="274.70" y1="637.20" x2="342.50" y2="637.20" stroke="#000" stroke-width="1.3"/>
<line x1="293.80" y1="637.20" x2="293.80" y2="639.70" stroke="#000" stroke-width="1.3"/>
<line x1="323.00" y1="637.20" x2="323.00" y2="639.70" stroke="#000" stroke-width="1.3"/>
<line x1="293.80" y1="582.30" x2="293.80" y2="613.40" stroke="#000" stroke-width="1.2"/>
<line x1="289.00" y1="582.30" x2="298.60" y2="582.30" stroke="#000" stroke-width="1.2"/>
<line x1="289.00" y1="613.40" x2="298.60" y2="613.40" stroke="#000" stroke-width="1.2"/>
<line x1="284.60" y1="598.00" x2="303.00" y2="598.00" stroke="#000" stroke-width="1.2"/>
<circle cx="293.80" cy="575.70" r="2.0" fill="#cc0014"/>
<circle cx="293.80" cy="600.50" r="2.0" fill="#cc0014"/>
<circle cx="293.80" cy="604.60" r="2.0" fill="#cc0014"/>
<circle cx="293.80" cy="611.20" r="2.0" fill="#cc0014"/>
<line x1="313.80" y1="634.30" x2="331.50" y2="634.30" stroke="#000" stroke-width="1.0"/>
<circle cx="314.60" cy="630.80" r="2.0" fill="#cc0014"/>
<circle cx="314.60" cy="635.80" r="2.0" fill="#cc0014"/>
<circle cx="320.00" cy="633.10" r="2.0" fill="#cc0014"/>
<circle cx="325.40" cy="635.40" r="2.0" fill="#cc0014"/>
<circle cx="331.00" cy="635.40" r="2.0" fill="#cc0014"/>
<text x="292.90" y="557.90" font-size="8.2" textLength="30.80" lengthAdjust="spacingAndGlyphs"><tspan font-style="italic">P</tspan> = 0.001</text>
<line x1="293.80" y1="560.20" x2="323.70" y2="560.20" stroke="#1a1a1a" stroke-width="1.35"/>
<text x="240.60" y="598.00" font-size="10.0" text-anchor="middle" textLength="48.00" lengthAdjust="spacingAndGlyphs" transform="rotate(-90 240.60 598.00)">CXCL13 pg/ml</text>
<text x="298.50" y="647.80" font-size="8.4" text-anchor="end" transform="rotate(-43 298.50 647.80)">Control</text>
<text x="328.70" y="647.80" font-size="8.4" text-anchor="end" transform="rotate(-43 328.70 647.80)">Clodronate</text>
<text x="405.2" y="539.3" font-size="11" font-weight="bold" fill="#000" style="stroke:#000;stroke-width:0.35px">K</text>
<text x="474.90" y="548.50" font-size="8.2" text-anchor="middle" font-weight="bold" fill="#111" textLength="49.50" lengthAdjust="spacingAndGlyphs">Bone marrow</text>
<line x1="441.40" y1="559.00" x2="441.40" y2="636.30" stroke="#000" stroke-width="1.3"/>
<line x1="438.40" y1="636.30" x2="441.40" y2="636.30" stroke="#000" stroke-width="1.3"/>
<text x="435.60" y="638.88" font-size="8.6" text-anchor="end" textLength="4.21" lengthAdjust="spacingAndGlyphs">0</text>
<line x1="438.40" y1="616.97" x2="441.40" y2="616.97" stroke="#000" stroke-width="1.3"/>
<text x="435.60" y="619.55" font-size="8.6" text-anchor="end" textLength="12.63" lengthAdjust="spacingAndGlyphs">100</text>
<line x1="438.40" y1="597.64" x2="441.40" y2="597.64" stroke="#000" stroke-width="1.3"/>
<text x="435.60" y="600.22" font-size="8.6" text-anchor="end" textLength="12.63" lengthAdjust="spacingAndGlyphs">200</text>
<line x1="438.40" y1="578.31" x2="441.40" y2="578.31" stroke="#000" stroke-width="1.3"/>
<text x="435.60" y="580.89" font-size="8.6" text-anchor="end" textLength="12.63" lengthAdjust="spacingAndGlyphs">300</text>
<line x1="438.40" y1="558.98" x2="441.40" y2="558.98" stroke="#000" stroke-width="1.3"/>
<text x="435.60" y="561.56" font-size="8.6" text-anchor="end" textLength="12.63" lengthAdjust="spacingAndGlyphs">400</text>
<line x1="441.40" y1="636.30" x2="507.40" y2="636.30" stroke="#000" stroke-width="1.3"/>
<line x1="461.30" y1="636.30" x2="461.30" y2="638.80" stroke="#000" stroke-width="1.3"/>
<line x1="491.50" y1="636.30" x2="491.50" y2="638.80" stroke="#000" stroke-width="1.3"/>
<line x1="460.80" y1="565.00" x2="460.80" y2="577.00" stroke="#000" stroke-width="1.2"/>
<line x1="456.30" y1="565.00" x2="465.30" y2="565.00" stroke="#000" stroke-width="1.2"/>
<line x1="456.30" y1="577.00" x2="465.30" y2="577.00" stroke="#000" stroke-width="1.2"/>
<line x1="450.80" y1="571.20" x2="470.80" y2="571.20" stroke="#000" stroke-width="1.2"/>
<circle cx="460.80" cy="565.20" r="2.0" fill="#cc0014"/>
<circle cx="457.50" cy="574.70" r="2.0" fill="#cc0014"/>
<circle cx="464.80" cy="573.90" r="2.0" fill="#cc0014"/>
<line x1="491.00" y1="627.00" x2="491.00" y2="633.60" stroke="#000" stroke-width="1.2"/>
<line x1="487.50" y1="627.00" x2="494.50" y2="627.00" stroke="#000" stroke-width="1.2"/>
<line x1="487.50" y1="633.60" x2="494.50" y2="633.60" stroke="#000" stroke-width="1.2"/>
<line x1="483.20" y1="630.40" x2="498.80" y2="630.40" stroke="#000" stroke-width="1.2"/>
<circle cx="491.00" cy="626.90" r="2.0" fill="#cc0014"/>
<circle cx="487.70" cy="633.00" r="2.0" fill="#cc0014"/>
<circle cx="494.40" cy="633.00" r="2.0" fill="#cc0014"/>
<text x="460.00" y="557.30" font-size="8.2" textLength="34.40" lengthAdjust="spacingAndGlyphs"><tspan font-style="italic">P</tspan> &lt; 0.0001</text>
<line x1="460.80" y1="559.20" x2="491.20" y2="559.20" stroke="#1a1a1a" stroke-width="1.35"/>
<text x="415.60" y="597.40" font-size="10.0" text-anchor="middle" textLength="47.00" lengthAdjust="spacingAndGlyphs" transform="rotate(-90 415.60 597.40)">CXCL13 pg/ml</text>
<text x="466.50" y="647.20" font-size="8.4" text-anchor="end" transform="rotate(-43 466.50 647.20)">Control</text>
<text x="496.70" y="647.20" font-size="8.4" text-anchor="end" transform="rotate(-43 496.70 647.20)">Clodronate</text>
</svg>
<div id="frame"></div>
</div>
</body></html>
